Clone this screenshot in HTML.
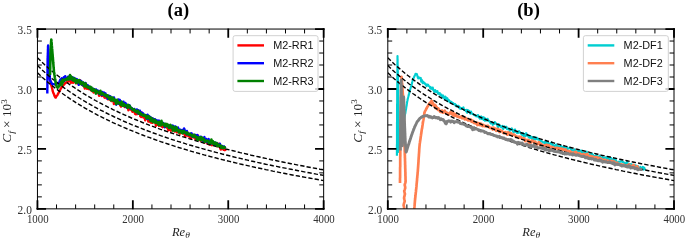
<!DOCTYPE html>
<html><head><meta charset="utf-8"><title>Cf vs Re_theta</title>
<style>
html,body{margin:0;padding:0;background:#fff;}
body{width:685px;height:240px;overflow:hidden;font-family:"Liberation Serif",serif;}
svg{display:block;will-change:transform;}
.tk{font-family:"Liberation Serif",serif;font-size:11.7px;fill:#333;}
.it{font-family:"Liberation Serif",serif;font-style:italic;font-size:11.8px;fill:#222;}
.lg{font-family:"Liberation Sans",sans-serif;font-size:10.85px;fill:#111;}
.ti{font-family:"Liberation Serif",serif;font-weight:bold;font-size:18.5px;fill:#000;}
.d{fill:none;stroke-linejoin:round;stroke-linecap:butt}
.ds{fill:none;stroke:#000;stroke-width:1.4;stroke-dasharray:4.3 2.1}
</style></head><body>
<svg width="685" height="240" viewBox="0 0 685 240">
<rect width="685" height="240" fill="#fff"/>
<defs>
<clipPath id="ca"><rect x="37.45" y="29.05" width="286.20" height="179.80"/></clipPath>
<clipPath id="cb"><rect x="387.80" y="29.05" width="286.20" height="179.80"/></clipPath>
</defs>
<text x="178.3" y="16.3" class="ti" text-anchor="middle">(a)</text>
<text x="528.5" y="16.3" class="ti" text-anchor="middle">(b)</text>
<g clip-path="url(#ca)">
<path class="d" d="M48.5,75.3 L48.7,75.8 L48.9,76.4 L49.1,76.8 L49.3,77.7 L49.5,78.4 L49.7,79.1 L49.9,79.7 L50.1,80.5 L50.3,81.1 L50.5,81.7 L50.6,82.7 L50.8,83.4 L51.0,84.2 L51.2,84.7 L51.3,85.3 L51.5,86.0 L51.7,86.5 L51.9,87.6 L52.0,88.0 L52.2,88.7 L52.4,89.5 L52.6,90.5 L52.7,91.0 L52.9,91.5 L53.1,92.2 L53.4,93.1 L53.7,93.6 L54.0,94.2 L54.2,95.0 L54.5,95.8 L54.8,96.6 L55.1,96.8 L55.3,97.5 L55.7,97.6 L56.1,96.8 L56.4,96.4 L56.8,95.7 L57.2,95.5 L57.6,94.7 L58.0,93.8 L58.3,93.5 L58.6,92.8 L59.0,91.9 L59.3,91.5 L59.6,90.8 L60.0,90.1 L60.3,89.6 L60.7,88.7 L61.0,88.3 L61.3,87.9 L61.7,87.2 L62.0,86.6 L62.5,86.1 L63.0,85.7 L63.5,84.8 L64.1,84.6 L64.6,83.7 L65.1,83.3 L65.6,82.6 L66.1,82.6 L66.8,82.3 L67.4,81.8 L68.1,81.8 L68.7,81.1 L69.4,80.9 L70.0,80.6 L70.5,81.1 L71.0,82.8 L71.5,79.6 L72.0,81.7 L72.5,80.6 L73.0,82.8 L73.5,81.4 L74.0,81.6 L74.5,81.8 L74.9,81.6 L75.4,80.0 L75.9,83.2 L76.3,80.4 L76.8,82.4 L77.2,83.0 L77.7,81.6 L78.2,82.9 L78.6,84.2 L79.1,83.1 L79.6,82.3 L80.0,80.3 L80.5,82.7 L80.9,83.3 L81.3,83.7 L81.8,83.4 L82.2,85.1 L82.6,84.3 L83.1,85.1 L83.5,86.2 L83.9,84.8 L84.4,85.6 L84.8,88.6 L85.3,87.4 L85.7,85.3 L86.1,86.9 L86.6,87.8 L87.0,88.8 L87.5,87.8 L87.9,87.3 L88.3,87.4 L88.8,89.1 L89.2,89.0 L89.7,88.3 L90.1,88.9 L90.6,88.9 L91.0,90.4 L91.4,89.1 L91.9,90.6 L92.3,91.2 L92.8,91.1 L93.2,89.8 L93.7,92.5 L94.1,90.5 L94.6,91.9 L95.0,90.9 L95.5,90.0 L95.9,92.4 L96.4,92.7 L96.8,92.5 L97.3,93.1 L97.7,92.3 L98.2,92.5 L98.6,93.3 L99.1,95.8 L99.5,94.8 L100.0,93.6 L100.4,95.0 L100.9,94.1 L101.3,94.3 L101.8,96.0 L102.2,94.7 L102.7,93.6 L103.1,94.7 L103.6,96.0 L104.0,96.3 L104.5,97.7 L104.9,95.8 L105.4,97.6 L105.8,97.5 L106.3,97.1 L106.7,98.4 L107.2,98.3 L107.6,97.0 L108.1,99.4 L108.5,97.1 L109.0,98.7 L109.4,98.9 L109.8,99.6 L110.3,98.5 L110.7,99.5 L111.2,99.6 L111.6,101.1 L112.1,99.4 L112.5,100.6 L113.0,100.4 L113.4,99.5 L113.9,104.1 L114.3,101.3 L114.8,100.0 L115.2,103.4 L115.7,100.9 L116.1,102.7 L116.6,103.4 L117.0,102.0 L117.5,102.5 L117.9,102.6 L118.4,103.2 L118.8,101.8 L119.3,102.5 L119.8,103.9 L120.2,105.4 L120.7,105.2 L121.1,106.6 L121.6,105.7 L122.0,104.6 L122.5,105.2 L122.9,103.3 L123.4,104.7 L123.8,104.9 L124.3,106.5 L124.8,107.1 L125.2,106.0 L125.7,106.2 L126.1,105.3 L126.6,107.1 L127.0,107.7 L127.5,108.2 L127.9,107.0 L128.4,110.3 L128.9,109.6 L129.3,108.4 L129.8,108.1 L130.2,108.6 L130.7,109.4 L131.1,109.4 L131.5,110.2 L132.0,110.8 L132.4,111.7 L132.8,111.7 L133.3,110.6 L133.7,111.4 L134.2,110.7 L134.6,110.8 L135.0,113.8 L135.5,111.4 L135.9,114.3 L136.4,112.0 L136.8,112.9 L137.2,114.1 L137.7,113.2 L138.1,113.8 L138.5,113.4 L139.0,113.3 L139.4,113.9 L139.9,113.6 L140.3,116.4 L140.8,114.7 L141.2,117.0 L141.6,112.4 L142.1,115.6 L142.5,116.4 L143.0,115.7 L143.4,117.5 L143.8,117.2 L144.3,116.5 L144.7,117.5 L145.2,120.3 L145.6,117.8 L146.1,118.0 L146.5,117.5 L146.9,118.3 L147.4,117.0 L147.8,118.4 L148.3,121.6 L148.7,120.3 L149.2,120.1 L149.6,120.8 L150.0,121.9 L150.5,120.7 L150.9,122.6 L151.4,121.7 L151.8,121.0 L152.3,122.9 L152.7,118.7 L153.2,120.9 L153.6,122.0 L154.1,120.9 L154.5,122.0 L154.9,121.7 L155.4,121.9 L155.9,125.8 L156.3,123.7 L156.8,123.1 L157.3,124.8 L157.7,123.3 L158.2,124.7 L158.7,124.3 L159.1,125.9 L159.6,122.7 L160.1,125.3 L160.6,124.8 L161.0,123.6 L161.5,126.2 L162.0,124.2 L162.4,127.2 L162.9,126.1 L163.4,126.5 L163.8,126.0 L164.3,127.1 L164.8,124.2 L165.2,126.5 L165.7,126.0 L166.2,127.1 L166.7,126.9 L167.1,127.9 L167.6,126.4 L168.1,129.6 L168.5,130.3 L169.0,127.7 L169.5,128.0 L169.9,128.6 L170.4,129.8 L170.9,130.7 L171.4,127.4 L171.8,128.3 L172.3,128.0 L172.8,128.1 L173.2,127.7 L173.7,130.0 L174.2,128.5 L174.7,131.6 L175.1,131.2 L175.6,129.2 L176.1,129.4 L176.5,130.0 L177.0,132.4 L177.5,130.1 L178.0,129.5 L178.4,131.3 L178.9,131.9 L179.4,131.0 L179.9,133.7 L180.3,132.3 L180.8,132.7 L181.3,131.5 L181.7,132.6 L182.2,132.6 L182.7,130.5 L183.1,133.5 L183.6,131.3 L184.1,133.5 L184.6,132.1 L185.0,136.1 L185.5,134.4 L186.0,135.2 L186.4,135.4 L186.9,133.1 L187.4,132.3 L187.8,134.6 L188.3,136.1 L188.8,135.4 L189.2,136.3 L189.7,136.7 L190.2,134.2 L190.7,136.3 L191.1,138.3 L191.6,135.7 L192.1,134.3 L192.5,136.5 L193.0,136.4 L193.5,137.5 L194.0,136.3 L194.4,137.5 L194.9,135.1 L195.4,138.7 L195.8,139.7 L196.3,139.5 L196.8,136.6 L197.3,138.8 L197.7,135.3 L198.2,139.1 L198.7,138.9 L199.2,138.0 L199.6,139.7 L200.1,139.6 L200.6,140.7 L201.0,140.0 L201.5,140.3 L202.0,138.0 L202.5,139.1 L202.9,140.0 L203.4,141.0 L203.9,140.8 L204.4,142.7 L204.8,140.2 L205.3,141.1 L205.8,141.8 L206.2,141.5 L206.7,142.5 L207.2,141.5 L207.6,143.8 L208.1,142.1 L208.6,143.9 L209.0,142.8 L209.5,144.6 L210.0,141.7 L210.5,143.9 L210.9,143.1 L211.4,144.0 L211.9,145.2 L212.3,142.8 L212.8,142.8 L213.3,143.4 L213.7,144.9 L214.2,142.7 L214.7,145.1 L215.1,143.8 L215.6,144.1 L216.1,145.1 L216.6,146.1 L217.0,145.2 L217.5,145.5 L218.0,146.2 L218.4,146.1 L218.9,143.7 L219.4,146.3 L219.8,147.1 L220.3,148.3 L220.8,149.6 L221.3,148.2 L221.7,147.8 L222.2,146.8 L222.7,148.1 L223.1,149.0 L223.6,149.8 L224.1,147.6 L224.6,149.0 L225.0,149.8 L225.5,151.1" stroke="#ff0000" stroke-width="2.4"/>
<path class="d" d="M47.3,93.5 L47.3,92.7 L47.3,92.0 L47.3,91.3 L47.3,90.6 L47.3,90.1 L47.3,89.4 L47.3,88.7 L47.4,88.0 L47.4,87.1 L47.4,86.5 L47.4,85.7 L47.4,85.0 L47.4,84.5 L47.4,83.6 L47.4,82.6 L47.4,82.1 L47.4,81.4 L47.4,80.5 L47.4,79.9 L47.4,79.5 L47.4,78.9 L47.4,77.8 L47.4,77.4 L47.5,76.7 L47.5,75.6 L47.5,75.1 L47.5,74.4 L47.5,73.7 L47.5,72.7 L47.5,72.2 L47.5,71.7 L47.5,71.0 L47.5,70.4 L47.5,69.4 L47.5,69.0 L47.5,68.1 L47.5,67.1 L47.5,66.7 L47.5,65.8 L47.6,65.3 L47.6,64.4 L47.6,63.9 L47.6,63.1 L47.6,62.3 L47.6,61.8 L47.6,61.0 L47.6,60.2 L47.6,59.7 L47.6,58.7 L47.7,58.0 L47.7,57.3 L47.7,56.5 L47.7,55.9 L47.8,55.5 L47.8,54.4 L47.8,53.8 L47.8,53.0 L47.9,52.3 L47.9,52.0 L47.9,51.1 L47.9,50.2 L47.9,49.6 L48.0,48.8 L48.0,48.1 L48.0,47.3 L48.0,46.6 L48.1,46.1 L48.1,45.4 L48.1,45.4 L48.1,46.0 L48.2,46.6 L48.2,47.5 L48.2,48.0 L48.3,49.0 L48.3,49.7 L48.3,50.4 L48.4,51.0 L48.4,51.5 L48.4,52.6 L48.5,53.3 L48.5,53.6 L48.5,54.6 L48.6,55.4 L48.6,55.8 L48.6,56.9 L48.7,57.3 L48.7,57.9 L48.7,59.0 L48.8,59.5 L48.8,60.1 L48.9,61.0 L48.9,61.3 L48.9,62.6 L49.0,62.9 L49.0,63.8 L49.1,64.4 L49.1,65.2 L49.2,66.0 L49.2,66.4 L49.2,67.4 L49.3,67.9 L49.3,68.6 L49.4,69.4 L49.4,70.0 L49.4,70.7 L49.5,71.7 L49.5,72.2 L49.6,73.1 L49.6,73.7 L49.7,74.2 L49.7,74.8 L49.7,75.7 L49.8,76.5 L49.8,77.2 L49.9,77.8 L49.9,78.7 L50.0,79.0 L50.0,79.8 L50.3,80.7 L50.6,81.6 L51.0,82.0 L51.3,82.4 L51.6,83.3 L51.9,83.9 L52.5,84.2 L53.2,84.1 L53.9,84.1 L54.6,84.3 L55.3,84.5 L56.0,84.7 L56.4,83.4 L56.8,83.3 L57.2,83.5 L57.6,83.0 L58.0,83.5 L58.4,83.2 L58.8,82.7 L59.2,83.6 L59.6,81.6 L60.0,80.3 L60.4,79.5 L60.9,79.8 L61.3,79.5 L61.7,78.3 L62.1,80.8 L62.5,80.0 L62.9,79.1 L63.4,78.3 L63.8,77.2 L64.2,77.7 L64.7,80.7 L65.2,76.1 L65.7,78.5 L66.2,79.1 L66.7,78.3 L67.1,77.7 L67.6,78.7 L68.1,76.6 L68.6,78.3 L69.1,79.1 L69.6,76.3 L70.1,76.4 L70.5,77.7 L71.0,78.8 L71.4,79.4 L71.9,78.9 L72.3,77.7 L72.8,77.4 L73.2,79.1 L73.7,79.5 L74.1,78.0 L74.6,79.5 L75.1,80.0 L75.5,81.0 L76.0,79.0 L76.4,80.9 L76.9,79.2 L77.4,80.2 L77.8,80.8 L78.3,82.7 L78.8,84.9 L79.2,81.7 L79.7,82.2 L80.1,82.9 L80.6,80.6 L81.0,83.2 L81.4,81.2 L81.9,84.6 L82.3,84.7 L82.8,83.9 L83.2,82.7 L83.6,85.7 L84.1,84.4 L84.5,84.5 L84.9,85.2 L85.4,82.9 L85.8,85.5 L86.3,86.4 L86.7,85.9 L87.1,86.0 L87.6,85.0 L88.0,87.0 L88.5,86.7 L88.9,86.8 L89.3,86.4 L89.8,88.2 L90.2,88.9 L90.7,88.1 L91.1,88.9 L91.6,89.6 L92.0,90.2 L92.4,88.9 L92.9,88.7 L93.3,88.7 L93.8,89.4 L94.2,90.2 L94.7,90.8 L95.1,89.6 L95.6,90.4 L96.0,89.4 L96.5,92.1 L96.9,90.5 L97.4,91.6 L97.8,90.6 L98.3,91.3 L98.7,91.1 L99.2,93.9 L99.6,92.7 L100.1,92.3 L100.5,91.7 L101.0,92.3 L101.4,93.8 L101.9,95.2 L102.3,92.0 L102.8,92.8 L103.2,93.8 L103.7,93.6 L104.1,92.6 L104.6,94.7 L105.0,95.7 L105.5,93.4 L105.9,95.6 L106.4,96.7 L106.8,96.9 L107.3,95.6 L107.7,98.8 L108.2,97.1 L108.6,95.9 L109.1,98.1 L109.5,96.0 L109.9,98.4 L110.4,96.3 L110.8,98.8 L111.3,97.5 L111.7,99.6 L112.2,99.4 L112.6,99.3 L113.1,99.1 L113.5,100.5 L114.0,97.5 L114.4,100.2 L114.9,100.4 L115.3,100.8 L115.8,101.3 L116.2,104.7 L116.7,101.0 L117.1,101.9 L117.6,101.5 L118.0,103.2 L118.5,99.5 L118.9,103.8 L119.4,101.4 L119.8,99.9 L120.3,101.4 L120.8,102.6 L121.2,103.2 L121.7,103.2 L122.1,104.4 L122.6,103.6 L123.0,103.8 L123.5,101.7 L123.9,104.9 L124.4,105.6 L124.8,104.3 L125.3,102.9 L125.8,103.7 L126.2,107.2 L126.7,104.9 L127.1,105.1 L127.6,105.1 L128.0,107.0 L128.5,105.8 L128.9,105.7 L129.4,105.2 L129.9,106.9 L130.3,108.4 L130.7,107.4 L131.2,108.7 L131.6,108.2 L132.1,108.4 L132.5,108.7 L132.9,108.8 L133.4,110.2 L133.8,109.8 L134.2,108.9 L134.7,109.9 L135.1,109.9 L135.6,110.8 L136.0,110.7 L136.4,111.2 L136.9,109.4 L137.3,111.7 L137.7,112.9 L138.2,110.2 L138.6,113.7 L139.1,112.5 L139.5,112.2 L139.9,110.7 L140.4,114.1 L140.8,112.1 L141.3,112.9 L141.7,114.3 L142.1,112.8 L142.6,113.1 L143.0,113.1 L143.5,114.5 L143.9,115.5 L144.4,115.5 L144.8,115.8 L145.2,115.2 L145.7,116.0 L146.1,115.3 L146.6,118.5 L147.0,116.7 L147.5,114.6 L147.9,115.8 L148.3,119.0 L148.8,116.0 L149.2,117.2 L149.7,118.4 L150.1,117.0 L150.6,119.6 L151.0,120.5 L151.4,118.0 L151.9,120.4 L152.3,118.4 L152.8,118.5 L153.2,120.1 L153.7,120.3 L154.1,119.6 L154.6,121.4 L155.0,119.1 L155.5,120.0 L155.9,119.9 L156.4,122.1 L156.9,122.4 L157.3,122.4 L157.8,120.4 L158.3,122.2 L158.7,122.7 L159.2,120.6 L159.7,121.7 L160.1,123.5 L160.6,123.7 L161.1,123.4 L161.5,123.9 L162.0,123.9 L162.5,123.9 L163.0,123.8 L163.4,123.1 L163.9,124.0 L164.4,124.0 L164.8,127.2 L165.3,125.1 L165.8,125.0 L166.2,124.9 L166.7,125.2 L167.2,125.2 L167.6,126.3 L168.1,125.8 L168.6,126.9 L169.1,125.4 L169.5,126.8 L170.0,127.5 L170.5,125.5 L170.9,127.1 L171.4,127.4 L171.9,126.9 L172.3,126.9 L172.8,125.6 L173.3,129.0 L173.8,126.9 L174.2,126.8 L174.7,129.0 L175.2,126.5 L175.6,129.7 L176.1,129.3 L176.6,129.6 L177.1,129.0 L177.5,128.0 L178.0,127.4 L178.5,131.3 L179.0,129.3 L179.4,129.4 L179.9,131.9 L180.4,129.7 L180.8,130.3 L181.3,130.5 L181.8,130.8 L182.2,129.9 L182.7,130.7 L183.2,132.9 L183.6,132.5 L184.1,128.5 L184.6,129.8 L185.1,132.5 L185.5,132.2 L186.0,132.1 L186.5,133.9 L186.9,130.9 L187.4,134.4 L187.9,133.4 L188.3,134.0 L188.8,133.9 L189.3,134.7 L189.8,133.7 L190.2,133.5 L190.7,135.2 L191.2,134.7 L191.6,133.3 L192.1,136.3 L192.6,136.4 L193.0,136.8 L193.5,135.5 L194.0,135.9 L194.5,135.3 L194.9,134.8 L195.4,136.1 L195.9,136.4 L196.3,135.7 L196.8,138.6 L197.3,135.0 L197.8,136.0 L198.2,136.4 L198.7,138.7 L199.2,137.2 L199.6,137.3 L200.1,136.8 L200.6,137.1 L201.1,136.7 L201.5,139.4 L202.0,139.1 L202.5,139.7 L203.0,138.1 L203.4,141.7 L203.9,138.1 L204.4,137.1 L204.8,139.2 L205.3,139.8 L205.8,140.7 L206.3,138.9 L206.7,140.9 L207.2,142.3 L207.7,139.6 L208.1,140.0 L208.6,139.1 L209.1,141.4 L209.5,142.3 L210.0,142.3 L210.5,142.6 L210.9,143.4 L211.4,142.2 L211.9,143.3 L212.3,141.4 L212.8,141.7 L213.3,143.0 L213.7,142.0 L214.2,143.8 L214.7,144.8 L215.2,143.9 L215.6,142.8 L216.1,143.0 L216.6,145.5 L217.0,143.3 L217.5,144.5 L218.0,144.3 L218.4,144.8 L218.9,146.1 L219.4,144.5 L219.9,143.7 L220.3,147.0 L220.8,145.9 L221.3,146.6 L221.7,145.9 L222.2,147.0 L222.7,147.7 L223.1,148.0 L223.6,146.4 L224.1,146.5 L224.6,147.5 L225.0,147.4 L225.5,148.0" stroke="#0000ff" stroke-width="2.4"/>
<path class="ds" d="M37.5,57.7 L41.1,61.3 L44.7,64.7 L48.3,67.9 L51.9,71.0 L55.6,74.0 L59.2,76.8 L62.8,79.6 L66.4,82.2 L70.1,84.8 L73.7,87.2 L77.3,89.6 L80.9,91.9 L84.5,94.2 L88.2,96.3 L91.8,98.4 L95.4,100.5 L99.0,102.4 L102.7,104.4 L106.3,106.2 L109.9,108.0 L113.5,109.8 L117.2,111.5 L120.8,113.2 L124.4,114.8 L128.0,116.4 L131.6,118.0 L135.3,119.5 L138.9,121.0 L142.5,122.5 L146.1,123.9 L149.8,125.3 L153.4,126.6 L157.0,128.0 L160.6,129.3 L164.2,130.5 L167.9,131.8 L171.5,133.0 L175.1,134.2 L178.7,135.4 L182.4,136.6 L186.0,137.7 L189.6,138.8 L193.2,139.9 L196.9,141.0 L200.5,142.0 L204.1,143.1 L207.7,144.1 L211.3,145.1 L215.0,146.1 L218.6,147.1 L222.2,148.0 L225.8,149.0 L229.5,149.9 L233.1,150.8 L236.7,151.7 L240.3,152.6 L243.9,153.4 L247.6,154.3 L251.2,155.2 L254.8,156.0 L258.4,156.8 L262.1,157.6 L265.7,158.4 L269.3,159.2 L272.9,160.0 L276.6,160.7 L280.2,161.5 L283.8,162.2 L287.4,163.0 L291.0,163.7 L294.7,164.4 L298.3,165.1 L301.9,165.8 L305.5,166.5 L309.2,167.2 L312.8,167.9 L316.4,168.5 L320.0,169.2 L323.7,169.8"/><path class="ds" d="M37.5,65.5 L41.1,69.0 L44.7,72.3 L48.3,75.4 L51.9,78.5 L55.6,81.4 L59.2,84.2 L62.8,86.9 L66.4,89.5 L70.1,92.0 L73.7,94.4 L77.3,96.7 L80.9,99.0 L84.5,101.2 L88.2,103.3 L91.8,105.4 L95.4,107.4 L99.0,109.3 L102.7,111.2 L106.3,113.0 L109.9,114.8 L113.5,116.5 L117.2,118.2 L120.8,119.9 L124.4,121.5 L128.0,123.0 L131.6,124.6 L135.3,126.0 L138.9,127.5 L142.5,128.9 L146.1,130.3 L149.8,131.7 L153.4,133.0 L157.0,134.3 L160.6,135.6 L164.2,136.8 L167.9,138.1 L171.5,139.3 L175.1,140.5 L178.7,141.6 L182.4,142.7 L186.0,143.9 L189.6,145.0 L193.2,146.0 L196.9,147.1 L200.5,148.1 L204.1,149.1 L207.7,150.1 L211.3,151.1 L215.0,152.1 L218.6,153.0 L222.2,154.0 L225.8,154.9 L229.5,155.8 L233.1,156.7 L236.7,157.6 L240.3,158.4 L243.9,159.3 L247.6,160.1 L251.2,161.0 L254.8,161.8 L258.4,162.6 L262.1,163.4 L265.7,164.2 L269.3,164.9 L272.9,165.7 L276.6,166.4 L280.2,167.2 L283.8,167.9 L287.4,168.6 L291.0,169.3 L294.7,170.0 L298.3,170.7 L301.9,171.4 L305.5,172.1 L309.2,172.8 L312.8,173.4 L316.4,174.1 L320.0,174.7 L323.7,175.4"/><path class="ds" d="M37.5,72.8 L41.1,76.2 L44.7,79.4 L48.3,82.6 L51.9,85.5 L55.6,88.4 L59.2,91.1 L62.8,93.8 L66.4,96.3 L70.1,98.8 L73.7,101.2 L77.3,103.5 L80.9,105.7 L84.5,107.8 L88.2,109.9 L91.8,111.9 L95.4,113.9 L99.0,115.8 L102.7,117.6 L106.3,119.4 L109.9,121.2 L113.5,122.9 L117.2,124.5 L120.8,126.1 L124.4,127.7 L128.0,129.2 L131.6,130.7 L135.3,132.2 L138.9,133.6 L142.5,135.0 L146.1,136.4 L149.8,137.7 L153.4,139.0 L157.0,140.3 L160.6,141.6 L164.2,142.8 L167.9,144.0 L171.5,145.2 L175.1,146.3 L178.7,147.5 L182.4,148.6 L186.0,149.7 L189.6,150.8 L193.2,151.8 L196.9,152.8 L200.5,153.9 L204.1,154.9 L207.7,155.8 L211.3,156.8 L215.0,157.7 L218.6,158.7 L222.2,159.6 L225.8,160.5 L229.5,161.4 L233.1,162.3 L236.7,163.1 L240.3,164.0 L243.9,164.8 L247.6,165.6 L251.2,166.5 L254.8,167.3 L258.4,168.0 L262.1,168.8 L265.7,169.6 L269.3,170.3 L272.9,171.1 L276.6,171.8 L280.2,172.6 L283.8,173.3 L287.4,174.0 L291.0,174.7 L294.7,175.4 L298.3,176.0 L301.9,176.7 L305.5,177.4 L309.2,178.0 L312.8,178.7 L316.4,179.3 L320.0,179.9 L323.7,180.6"/>
<path class="d" d="M50.0,74.9 L50.0,73.9 L50.0,73.7 L50.1,73.0 L50.1,72.3 L50.1,71.7 L50.1,70.9 L50.1,70.0 L50.1,69.5 L50.2,68.6 L50.2,68.1 L50.2,67.3 L50.2,66.6 L50.2,65.8 L50.2,65.1 L50.3,64.2 L50.3,63.7 L50.3,62.6 L50.3,62.3 L50.3,61.7 L50.3,61.2 L50.4,60.2 L50.4,59.3 L50.4,58.5 L50.4,58.3 L50.4,57.1 L50.4,56.7 L50.5,55.6 L50.5,55.2 L50.5,54.6 L50.5,53.8 L50.5,53.1 L50.5,52.2 L50.6,51.5 L50.6,51.1 L50.6,50.3 L50.6,49.5 L50.7,48.9 L50.7,48.0 L50.8,47.6 L50.8,46.9 L50.9,45.9 L50.9,45.3 L51.0,44.8 L51.0,43.8 L51.0,43.5 L51.1,42.7 L51.1,41.7 L51.2,41.2 L51.2,40.6 L51.3,39.5 L51.3,39.7 L51.4,40.3 L51.4,41.0 L51.5,41.9 L51.6,42.4 L51.6,43.0 L51.7,43.7 L51.7,44.6 L51.8,45.4 L51.9,46.0 L51.9,46.7 L52.0,47.4 L52.0,48.3 L52.1,48.9 L52.2,49.4 L52.2,50.2 L52.3,51.1 L52.3,51.6 L52.4,52.3 L52.4,53.0 L52.5,53.6 L52.6,54.6 L52.6,54.8 L52.7,56.1 L52.7,56.5 L52.8,57.1 L52.9,58.0 L52.9,58.4 L53.0,59.5 L53.0,60.2 L53.1,60.7 L53.1,61.5 L53.2,62.4 L53.3,62.8 L53.3,63.6 L53.4,64.4 L53.4,65.3 L53.5,65.7 L53.5,66.5 L53.6,67.3 L53.7,67.5 L53.7,68.5 L53.8,69.0 L53.8,69.7 L53.9,71.0 L53.9,71.4 L54.0,72.3 L54.1,72.8 L54.2,73.6 L54.3,74.1 L54.4,74.8 L54.6,75.6 L54.7,76.3 L54.8,77.2 L54.9,77.7 L55.0,78.4 L55.1,79.0 L55.2,79.8 L55.3,80.3 L55.4,81.3 L55.5,81.8 L55.6,82.6 L55.7,83.2 L55.8,84.1 L56.0,84.8 L56.2,85.3 L56.6,86.0 L56.9,86.6 L57.3,87.3 L57.6,87.7 L58.1,87.3 L58.6,86.8 L59.1,86.1 L59.5,85.3 L60.0,85.3 L60.3,84.3 L60.7,83.8 L61.0,81.8 L61.3,84.3 L61.7,82.1 L62.0,84.6 L62.3,79.9 L62.7,82.1 L63.0,82.3 L63.3,80.8 L63.7,80.1 L64.0,80.7 L64.5,79.7 L64.9,79.7 L65.4,79.8 L65.8,79.0 L66.3,79.1 L66.7,79.9 L67.2,78.5 L67.6,78.9 L68.1,77.7 L68.6,79.3 L69.1,77.0 L69.5,79.2 L70.0,75.1 L70.5,77.2 L71.0,76.4 L71.5,79.3 L71.9,78.8 L72.3,77.5 L72.8,78.5 L73.2,80.6 L73.6,79.5 L74.1,80.4 L74.5,78.5 L75.0,78.7 L75.4,81.0 L75.9,82.9 L76.4,80.3 L76.8,81.6 L77.3,80.3 L77.7,82.6 L78.2,81.1 L78.7,81.3 L79.1,80.1 L79.6,81.7 L80.1,82.5 L80.5,84.0 L80.9,81.7 L81.4,84.1 L81.8,83.0 L82.2,83.3 L82.7,82.9 L83.1,82.4 L83.5,83.1 L84.0,86.2 L84.4,83.7 L84.9,84.7 L85.3,86.4 L85.7,83.5 L86.2,86.3 L86.6,85.6 L87.1,86.5 L87.5,87.4 L87.9,86.6 L88.4,86.8 L88.8,88.0 L89.3,88.1 L89.7,87.0 L90.1,87.8 L90.6,86.9 L91.0,89.7 L91.5,87.5 L91.9,89.1 L92.4,90.9 L92.8,90.2 L93.3,89.3 L93.7,89.1 L94.2,89.5 L94.6,91.2 L95.1,90.9 L95.5,90.8 L95.9,93.6 L96.4,90.4 L96.8,91.0 L97.3,91.3 L97.7,92.1 L98.2,92.5 L98.6,92.1 L99.1,93.3 L99.5,93.4 L100.0,92.7 L100.4,90.8 L100.9,94.3 L101.4,92.7 L101.8,93.2 L102.3,94.0 L102.7,93.1 L103.2,93.7 L103.6,94.8 L104.1,94.6 L104.5,95.5 L105.0,94.5 L105.4,95.4 L105.9,94.8 L106.3,95.8 L106.8,96.6 L107.2,96.3 L107.6,95.3 L108.1,96.8 L108.5,97.4 L109.0,98.6 L109.4,97.7 L109.9,97.5 L110.3,97.0 L110.8,100.4 L111.2,97.7 L111.7,97.7 L112.1,98.9 L112.6,97.5 L113.0,100.6 L113.5,99.9 L113.9,100.5 L114.4,99.2 L114.8,99.9 L115.3,101.5 L115.7,101.8 L116.2,104.0 L116.6,102.4 L117.1,99.7 L117.5,101.9 L118.0,101.6 L118.4,103.3 L118.9,102.4 L119.3,103.2 L119.8,102.6 L120.2,103.7 L120.7,104.8 L121.1,102.9 L121.6,101.7 L122.1,102.9 L122.5,105.8 L123.0,104.6 L123.4,104.3 L123.9,103.9 L124.3,106.1 L124.8,105.5 L125.2,105.4 L125.7,105.1 L126.1,105.7 L126.6,105.8 L127.1,106.9 L127.5,107.8 L128.0,104.8 L128.4,105.5 L128.9,107.1 L129.4,107.4 L129.8,106.0 L130.2,107.2 L130.7,107.7 L131.1,107.9 L131.6,108.1 L132.0,108.7 L132.4,109.9 L132.9,110.0 L133.3,110.1 L133.7,110.1 L134.2,109.3 L134.6,109.8 L135.1,111.2 L135.5,110.9 L135.9,111.8 L136.4,111.5 L136.8,111.6 L137.3,112.2 L137.7,110.5 L138.1,112.1 L138.6,111.9 L139.0,113.6 L139.5,112.3 L139.9,113.4 L140.3,113.0 L140.8,114.2 L141.2,114.7 L141.7,114.0 L142.1,114.5 L142.5,114.8 L143.0,115.7 L143.4,114.8 L143.9,115.4 L144.3,115.2 L144.8,114.9 L145.2,116.3 L145.6,116.7 L146.1,115.7 L146.5,118.4 L147.0,116.3 L147.4,118.0 L147.9,117.9 L148.3,116.0 L148.7,117.9 L149.2,116.6 L149.6,118.3 L150.1,119.4 L150.5,120.8 L151.0,119.9 L151.4,117.9 L151.8,119.3 L152.3,121.4 L152.7,120.3 L153.2,122.1 L153.6,119.8 L154.1,120.2 L154.5,119.7 L155.0,120.9 L155.4,122.7 L155.9,120.7 L156.4,122.6 L156.8,122.5 L157.3,123.0 L157.8,122.1 L158.2,122.6 L158.7,124.9 L159.2,121.7 L159.6,123.9 L160.1,124.8 L160.6,123.9 L161.0,125.3 L161.5,120.9 L162.0,123.7 L162.4,123.0 L162.9,124.0 L163.4,124.5 L163.9,125.2 L164.3,124.1 L164.8,126.0 L165.3,123.7 L165.7,126.4 L166.2,125.4 L166.7,124.0 L167.1,124.2 L167.6,124.4 L168.1,125.3 L168.5,126.6 L169.0,128.0 L169.5,127.6 L170.0,125.7 L170.4,124.9 L170.9,127.1 L171.4,126.1 L171.8,127.6 L172.3,127.2 L172.8,130.6 L173.3,126.5 L173.7,128.7 L174.2,130.4 L174.7,128.3 L175.1,128.1 L175.6,130.8 L176.1,127.1 L176.6,127.7 L177.0,128.4 L177.5,130.2 L178.0,130.7 L178.5,130.0 L178.9,132.5 L179.4,130.3 L179.9,130.6 L180.3,130.5 L180.8,132.2 L181.3,131.2 L181.7,131.0 L182.2,133.3 L182.7,133.0 L183.2,132.9 L183.6,130.8 L184.1,131.2 L184.6,132.2 L185.0,132.4 L185.5,132.4 L186.0,132.8 L186.4,133.9 L186.9,132.4 L187.4,133.8 L187.8,133.4 L188.3,133.5 L188.8,133.8 L189.3,135.0 L189.7,134.8 L190.2,133.9 L190.7,135.2 L191.1,135.2 L191.6,135.6 L192.1,135.1 L192.6,136.6 L193.0,136.1 L193.5,134.8 L194.0,134.8 L194.4,134.9 L194.9,136.9 L195.4,135.9 L195.9,136.5 L196.3,136.9 L196.8,138.4 L197.3,139.5 L197.7,137.4 L198.2,139.7 L198.7,138.4 L199.2,139.2 L199.6,137.9 L200.1,137.1 L200.6,139.0 L201.0,140.0 L201.5,137.3 L202.0,139.0 L202.5,139.5 L202.9,140.0 L203.4,138.5 L203.9,139.2 L204.4,140.8 L204.8,141.9 L205.3,140.4 L205.8,141.4 L206.2,140.8 L206.7,141.2 L207.2,140.6 L207.6,140.9 L208.1,140.8 L208.6,141.6 L209.0,142.8 L209.5,142.1 L210.0,142.7 L210.5,141.6 L210.9,143.2 L211.4,139.5 L211.9,141.4 L212.3,142.7 L212.8,141.3 L213.3,143.9 L213.7,143.7 L214.2,142.8 L214.7,144.0 L215.1,142.6 L215.6,143.3 L216.1,144.0 L216.6,143.0 L217.0,145.8 L217.5,144.3 L218.0,146.2 L218.4,145.2 L218.9,145.8 L219.4,144.8 L219.8,145.5 L220.3,145.6 L220.8,146.4 L221.3,147.8 L221.7,146.0 L222.2,146.6 L222.7,147.3 L223.1,148.0 L223.6,147.2 L224.1,147.1 L224.6,147.0 L225.0,147.8 L225.5,148.2" stroke="#008000" stroke-width="2.6"/>
</g>
<g clip-path="url(#cb)">
<path class="d" d="M396.9,155.8 L396.9,155.2 L396.9,154.6 L396.9,153.8 L396.9,153.0 L396.9,152.5 L396.9,151.8 L396.9,151.0 L396.9,150.3 L396.9,149.5 L396.9,148.9 L396.9,148.2 L396.9,147.5 L396.9,146.6 L396.9,146.1 L396.9,145.4 L396.9,144.7 L397.0,143.9 L397.0,143.2 L397.0,142.4 L397.0,141.7 L397.0,140.8 L397.0,140.4 L397.0,139.9 L397.0,139.2 L397.0,138.2 L397.0,137.7 L397.0,137.0 L397.0,136.2 L397.0,135.3 L397.0,135.0 L397.0,134.1 L397.0,133.4 L397.0,132.9 L397.0,132.0 L397.0,131.4 L397.0,130.8 L397.0,129.9 L397.0,129.1 L397.0,128.6 L397.0,127.8 L397.0,127.2 L397.0,126.4 L397.0,125.6 L397.0,125.0 L397.0,124.2 L397.0,123.5 L397.0,122.9 L397.0,122.2 L397.1,121.5 L397.1,120.6 L397.1,120.1 L397.1,119.2 L397.1,118.9 L397.1,117.9 L397.1,117.2 L397.1,116.7 L397.1,115.8 L397.1,115.0 L397.1,114.3 L397.1,113.8 L397.1,113.1 L397.1,112.4 L397.1,111.6 L397.1,110.9 L397.1,110.3 L397.1,109.6 L397.1,108.7 L397.1,108.5 L397.1,107.4 L397.1,106.8 L397.1,106.2 L397.1,105.4 L397.1,104.6 L397.1,104.0 L397.2,103.3 L397.2,102.2 L397.2,101.8 L397.2,101.0 L397.2,100.3 L397.2,99.7 L397.2,99.0 L397.2,98.3 L397.2,97.5 L397.2,97.0 L397.2,95.9 L397.2,95.3 L397.2,94.6 L397.2,94.0 L397.2,93.3 L397.2,92.7 L397.2,91.8 L397.2,91.4 L397.2,90.6 L397.2,89.8 L397.3,88.9 L397.3,88.3 L397.3,87.6 L397.3,87.1 L397.3,86.4 L397.3,85.5 L397.3,85.1 L397.3,84.2 L397.3,83.3 L397.3,82.9 L397.3,82.2 L397.3,81.4 L397.3,80.6 L397.3,80.1 L397.3,79.2 L397.3,78.6 L397.3,77.9 L397.3,77.2 L397.3,76.4 L397.4,75.7 L397.4,75.1 L397.4,74.1 L397.4,73.7 L397.4,73.0 L397.4,72.3 L397.4,71.5 L397.4,70.9 L397.4,70.2 L397.4,69.3 L397.4,68.7 L397.4,68.1 L397.4,67.2 L397.4,66.5 L397.4,66.1 L397.4,65.3 L397.4,64.4 L397.4,63.9 L397.4,63.1 L397.5,62.5 L397.5,61.8 L397.5,60.7 L397.5,60.3 L397.5,59.7 L397.5,59.0 L397.5,58.1 L397.5,57.4 L397.5,56.8 L397.5,56.0 L397.5,56.2 L397.5,56.8 L397.5,57.7 L397.5,58.4 L397.6,59.1 L397.6,59.6 L397.6,60.3 L397.6,61.0 L397.6,61.9 L397.6,62.4 L397.6,63.3 L397.6,64.1 L397.6,64.6 L397.7,65.4 L397.7,66.2 L397.7,66.9 L397.7,67.4 L397.7,68.2 L397.7,68.9 L397.7,69.6 L397.7,70.4 L397.8,71.0 L397.8,71.8 L397.8,72.2 L397.8,73.2 L397.8,73.9 L397.8,74.5 L397.8,75.3 L397.8,76.0 L397.8,76.6 L397.9,77.3 L397.9,78.1 L397.9,78.7 L397.9,79.3 L397.9,80.0 L397.9,80.8 L397.9,81.6 L397.9,82.3 L398.0,83.0 L398.0,83.8 L398.0,84.3 L398.0,85.0 L398.0,85.7 L398.0,86.4 L398.0,87.1 L398.0,88.0 L398.0,88.4 L398.1,89.3 L398.1,90.0 L398.1,90.8 L398.1,91.3 L398.1,92.2 L398.1,92.7 L398.1,93.6 L398.1,94.0 L398.1,94.9 L398.2,95.7 L398.2,96.1 L398.2,97.1 L398.2,97.6 L398.2,98.5 L398.2,99.1 L398.2,99.9 L398.2,100.6 L398.3,101.1 L398.3,102.1 L398.3,102.8 L398.3,103.2 L398.3,104.1 L398.3,104.8 L398.3,105.4 L398.3,106.0 L398.3,107.0 L398.4,107.5 L398.4,108.3 L398.4,109.2 L398.4,109.7 L398.4,110.3 L398.4,111.2 L398.4,111.6 L398.4,112.4 L398.4,113.5 L398.4,113.8 L398.5,114.6 L398.5,115.2 L398.5,116.0 L398.5,116.7 L398.5,117.1 L398.5,118.0 L398.5,118.9 L398.5,119.6 L398.5,120.2 L398.5,120.8 L398.5,121.7 L398.5,122.3 L398.6,122.9 L398.6,123.7 L398.6,124.7 L398.6,125.0 L398.6,125.9 L398.6,126.6 L398.6,127.1 L398.6,127.8 L398.6,128.6 L398.6,129.3 L398.6,130.1 L398.6,130.7 L398.7,131.4 L398.7,132.3 L398.7,132.9 L398.7,133.5 L398.7,134.3 L398.7,135.2 L398.7,135.6 L398.7,136.2 L398.7,137.2 L398.7,138.0 L398.7,138.6 L398.7,139.1 L398.8,139.7 L398.8,140.7 L398.8,141.3 L398.8,142.0 L398.8,142.7 L398.8,143.6 L398.8,144.1 L398.8,144.8 L398.8,145.5 L398.8,146.1 L398.8,146.9 L398.8,147.6 L398.9,148.1 L398.9,148.9 L398.9,149.6 L398.9,150.3 L398.9,151.2 L398.9,152.0 L399.0,151.5 L399.1,150.6 L399.2,149.9 L399.3,149.5 L399.4,148.7 L399.5,148.0 L399.6,147.2 L399.7,146.4 L399.8,146.1 L399.9,145.1 L400.0,144.5 L400.1,143.7 L400.2,143.3 L400.3,142.4 L400.4,141.7 L400.5,141.0 L400.6,140.3 L400.7,139.8 L400.8,138.8 L400.9,138.3 L401.0,137.5 L401.1,136.8 L401.2,136.1 L401.3,135.5 L401.4,134.6 L401.5,134.0 L401.6,133.4 L401.8,132.6 L401.9,131.9 L402.0,131.3 L402.1,130.6 L402.2,129.9 L402.3,129.2 L402.5,128.4 L402.6,127.9 L402.7,127.0 L402.8,126.3 L403.0,125.8 L403.1,124.9 L403.2,124.3 L403.3,123.7 L403.5,123.1 L403.6,122.3 L403.7,121.6 L403.9,120.9 L404.0,120.3 L404.1,119.5 L404.2,118.9 L404.4,118.3 L404.5,117.4 L404.6,116.7 L404.7,116.0 L404.9,115.3 L405.0,114.6 L405.1,113.9 L405.3,113.3 L405.4,112.7 L405.5,112.0 L405.6,111.2 L405.7,110.6 L405.9,109.7 L406.0,109.4 L406.1,108.7 L406.2,107.8 L406.3,107.1 L406.4,106.4 L406.6,105.8 L406.7,104.9 L406.8,104.1 L406.9,103.7 L407.0,102.8 L407.1,102.3 L407.2,101.4 L407.4,100.8 L407.5,100.2 L407.6,99.6 L407.8,98.8 L408.0,98.0 L408.1,97.4 L408.3,96.7 L408.5,95.9 L408.7,95.4 L408.8,94.5 L409.0,94.0 L409.2,93.3 L409.3,92.7 L409.5,91.8 L409.7,91.2 L409.9,90.6 L410.0,90.0 L410.2,89.3 L410.4,88.6 L410.6,87.8 L410.8,87.3 L411.0,86.5 L411.2,85.8 L411.4,85.3 L411.6,84.4 L411.8,84.0 L412.0,83.1 L412.1,82.4 L412.3,81.8 L412.5,81.0 L412.7,80.4 L412.9,79.8 L413.2,78.9 L413.5,78.4 L413.8,77.7 L414.0,77.1 L414.3,76.7 L414.6,75.9 L414.9,75.3 L415.2,74.7 L415.5,73.9 L415.9,74.0 L416.4,74.4 L416.8,74.0 L417.3,75.5 L417.8,77.6 L418.3,78.3 L418.8,77.3 L419.3,78.2 L419.7,78.2 L420.2,78.1 L420.7,77.9 L421.2,81.7 L421.7,79.7 L422.2,81.3 L422.7,83.1 L423.2,81.7 L423.7,82.4 L424.2,83.3 L424.8,83.2 L425.3,84.2 L425.8,84.1 L426.4,85.9 L427.0,85.7 L427.5,84.6 L428.1,84.8 L428.7,85.9 L429.3,86.3 L429.8,86.6 L430.4,88.6 L431.0,87.5 L431.6,88.1 L432.2,89.1 L432.7,87.5 L433.3,90.1 L433.9,90.7 L434.5,91.9 L435.1,90.0 L435.6,90.9 L436.2,91.9 L436.8,91.7 L437.4,91.1 L438.0,93.7 L438.6,93.0 L439.2,94.0 L439.7,93.0 L440.3,95.3 L440.9,94.5 L441.5,94.6 L442.1,96.4 L442.6,97.1 L443.2,95.6 L443.8,97.8 L444.4,98.8 L445.0,97.9 L445.5,96.7 L446.1,99.0 L446.7,99.8 L447.3,98.2 L447.9,101.2 L448.5,99.8 L449.0,100.3 L449.6,101.8 L450.2,101.4 L450.8,102.7 L451.4,101.9 L452.0,102.7 L452.6,102.7 L453.2,103.3 L453.7,104.0 L454.3,104.3 L454.9,103.9 L455.5,105.5 L456.1,104.9 L456.7,106.5 L457.3,106.3 L457.9,106.0 L458.5,105.8 L459.1,106.9 L459.7,108.5 L460.3,107.7 L460.9,108.8 L461.5,108.1 L462.2,108.2 L462.8,108.2 L463.4,107.3 L464.0,109.8 L464.7,109.9 L465.3,110.1 L465.9,111.2 L466.6,109.8 L467.2,112.7 L467.8,110.0 L468.4,111.9 L469.1,110.9 L469.7,112.1 L470.3,113.7 L471.0,111.5 L471.6,113.4 L472.2,113.6 L472.9,114.0 L473.5,114.4 L474.1,115.2 L474.8,115.2 L475.4,115.4 L476.1,116.2 L476.7,116.3 L477.3,115.8 L478.0,115.1 L478.6,117.3 L479.2,116.5 L479.9,118.7 L480.5,116.9 L481.2,116.5 L481.8,119.0 L482.4,117.6 L483.1,117.1 L483.7,120.0 L484.4,117.7 L485.0,120.7 L485.7,118.8 L486.3,120.4 L486.9,120.5 L487.6,118.8 L488.2,120.8 L488.9,120.7 L489.5,121.5 L490.2,122.2 L490.8,123.4 L491.5,122.0 L492.1,122.4 L492.7,124.8 L493.4,123.7 L494.0,124.0 L494.7,122.1 L495.3,122.5 L496.0,123.6 L496.6,124.2 L497.3,125.1 L497.9,127.5 L498.6,124.0 L499.3,125.0 L499.9,126.3 L500.6,126.2 L501.2,127.3 L501.9,126.2 L502.5,125.9 L503.2,129.0 L503.8,127.7 L504.5,126.4 L505.1,127.4 L505.8,127.9 L506.4,126.8 L507.1,129.2 L507.8,128.9 L508.4,128.6 L509.1,128.6 L509.7,131.1 L510.4,129.7 L511.0,129.2 L511.7,128.3 L512.4,129.5 L513.0,131.4 L513.7,132.4 L514.3,130.1 L515.0,129.5 L515.7,131.7 L516.3,131.9 L517.0,133.0 L517.6,131.7 L518.3,132.8 L519.0,131.1 L519.6,132.0 L520.3,132.8 L520.9,133.2 L521.6,134.3 L522.3,135.2 L522.9,133.0 L523.6,136.1 L524.3,134.1 L524.9,134.6 L525.6,136.3 L526.2,133.2 L526.9,134.3 L527.6,135.2 L528.2,136.3 L528.9,137.5 L529.6,137.7 L530.2,136.0 L530.9,137.9 L531.5,137.0 L532.2,139.0 L532.9,137.6 L533.5,139.1 L534.2,137.3 L534.9,139.3 L535.5,137.5 L536.2,139.1 L536.8,137.7 L537.5,139.3 L538.2,138.9 L538.8,139.0 L539.5,140.4 L540.2,141.1 L540.8,140.7 L541.5,141.1 L542.2,141.8 L542.8,142.5 L543.5,142.5 L544.2,142.1 L544.8,143.9 L545.5,141.7 L546.2,143.2 L546.8,141.6 L547.5,145.2 L548.1,142.9 L548.8,143.5 L549.5,144.9 L550.1,143.6 L550.8,143.2 L551.5,142.5 L552.1,144.2 L552.8,146.6 L553.5,145.1 L554.1,146.8 L554.8,146.1 L555.5,145.1 L556.2,144.4 L556.8,145.8 L557.5,146.7 L558.2,146.1 L558.9,146.7 L559.5,147.2 L560.2,146.5 L560.9,145.7 L561.6,146.9 L562.3,148.0 L562.9,146.8 L563.6,146.8 L564.3,147.0 L565.0,147.9 L565.6,148.2 L566.3,148.5 L567.0,147.5 L567.7,148.9 L568.4,148.5 L569.0,148.3 L569.7,147.7 L570.4,148.5 L571.1,149.2 L571.8,150.1 L572.4,150.5 L573.1,150.3 L573.8,150.7 L574.5,149.5 L575.2,151.5 L575.9,151.7 L576.5,151.8 L577.2,150.8 L577.9,151.4 L578.6,151.2 L579.3,150.5 L580.0,151.6 L580.6,150.6 L581.3,150.6 L582.0,153.0 L582.7,153.1 L583.4,153.5 L584.1,152.5 L584.7,153.1 L585.4,153.8 L586.1,153.1 L586.8,151.7 L587.5,155.9 L588.1,155.2 L588.8,155.4 L589.5,154.4 L590.2,153.8 L590.9,154.8 L591.5,155.2 L592.2,153.8 L592.9,154.8 L593.6,156.0 L594.3,157.0 L594.9,156.4 L595.6,155.6 L596.3,154.9 L597.0,158.2 L597.7,156.6 L598.4,157.4 L599.0,156.9 L599.7,155.7 L600.4,159.2 L601.1,158.0 L601.8,158.7 L602.4,156.9 L603.1,157.8 L603.8,159.3 L604.5,157.8 L605.2,157.6 L605.9,157.4 L606.5,157.4 L607.2,159.6 L607.9,158.9 L608.6,157.4 L609.3,160.7 L610.0,160.7 L610.7,160.7 L611.3,158.0 L612.0,160.0 L612.7,161.3 L613.4,159.3 L614.1,159.7 L614.8,160.3 L615.4,158.8 L616.1,161.1 L616.8,162.0 L617.5,161.8 L618.2,162.8 L618.9,161.6 L619.6,161.6 L620.2,161.7 L620.9,161.3 L621.6,161.2 L622.3,161.7 L623.0,162.5 L623.6,162.2 L624.3,163.0 L625.0,163.2 L625.7,163.9 L626.4,162.9 L627.0,161.6 L627.7,162.9 L628.4,165.8 L629.1,164.9 L629.8,163.9 L630.4,164.3 L631.1,164.6 L631.8,164.4 L632.5,165.2 L633.2,165.8 L633.8,166.5 L634.5,165.2 L635.2,165.4 L635.9,165.6 L636.5,166.2 L637.2,167.4 L637.8,166.0 L638.5,169.0 L639.1,167.7 L639.8,168.5 L640.4,166.9 L641.1,167.7 L641.7,167.8 L642.4,168.6 L643.0,166.9 L643.7,169.6 L644.3,167.7 L645.0,170.0" stroke="#00ced1" stroke-width="2.15"/>
<path class="d" d="M400.0,183.1 L400.0,182.3 L400.0,181.6 L400.0,180.9 L400.0,180.2 L400.0,179.5 L400.0,178.9 L400.0,178.2 L400.1,177.5 L400.1,176.7 L400.1,175.9 L400.1,175.2 L400.1,174.5 L400.1,173.8 L400.1,173.1 L400.1,172.7 L400.1,171.8 L400.1,171.3 L400.1,170.2 L400.1,169.7 L400.1,169.1 L400.1,168.3 L400.1,167.5 L400.2,166.9 L400.2,166.2 L400.2,165.5 L400.2,164.8 L400.2,164.1 L400.2,163.4 L400.2,162.7 L400.2,162.0 L400.2,161.3 L400.2,160.5 L400.2,159.9 L400.2,159.1 L400.2,158.5 L400.2,157.7 L400.2,157.0 L400.3,156.3 L400.3,155.5 L400.3,155.0 L400.3,154.3 L400.3,153.5 L400.3,152.9 L400.3,152.1 L400.3,151.4 L400.3,150.8 L400.3,150.3 L400.3,149.3 L400.3,148.8 L400.3,147.9 L400.3,147.1 L400.3,146.6 L400.4,145.9 L400.4,145.1 L400.4,144.4 L400.4,143.6 L400.4,142.8 L400.4,142.3 L400.4,141.4 L400.4,140.9 L400.4,140.1 L400.4,139.5 L400.4,138.9 L400.4,137.9 L400.4,137.4 L400.4,136.7 L400.4,136.1 L400.5,135.3 L400.5,134.5 L400.5,133.8 L400.5,133.3 L400.5,132.4 L400.5,131.8 L400.5,131.1 L400.5,130.2 L400.5,129.6 L400.5,128.7 L400.5,128.1 L400.5,127.6 L400.6,126.9 L400.6,125.9 L400.6,125.6 L400.6,124.6 L400.6,123.9 L400.6,123.5 L400.6,122.7 L400.7,121.9 L400.7,121.4 L400.7,120.5 L400.7,119.9 L400.7,119.1 L400.7,118.4 L400.7,117.7 L400.7,117.1 L400.8,116.2 L400.8,115.6 L400.8,114.7 L400.8,114.0 L400.8,113.6 L400.8,112.8 L400.8,112.1 L400.9,111.5 L400.9,110.7 L400.9,110.0 L400.9,109.3 L400.9,108.4 L400.9,107.9 L400.9,107.3 L400.9,106.6 L401.0,105.8 L401.0,105.1 L401.0,104.4 L401.0,103.8 L401.0,103.1 L401.0,102.2 L401.0,101.5 L401.0,100.8 L401.1,100.1 L401.1,99.4 L401.1,98.7 L401.1,97.8 L401.1,97.4 L401.1,96.6 L401.1,95.8 L401.2,95.2 L401.2,94.5 L401.2,94.0 L401.2,93.0 L401.2,92.4 L401.2,91.8 L401.2,90.9 L401.2,90.2 L401.3,89.7 L401.3,88.9 L401.3,88.1 L401.3,87.4 L401.3,86.9 L401.3,86.3 L401.3,85.4 L401.4,84.8 L401.4,84.1 L401.4,83.4 L401.4,82.5 L401.4,82.0 L401.4,81.3 L401.4,80.8 L401.4,79.8 L401.5,79.2 L401.5,78.5 L401.5,77.8 L401.5,76.9 L401.6,77.7 L401.6,78.5 L401.7,79.1 L401.7,79.8 L401.8,80.4 L401.9,81.2 L401.9,81.9 L402.0,82.7 L402.1,83.3 L402.1,84.0 L402.2,84.6 L402.2,85.4 L402.3,86.1 L402.3,87.0 L402.4,87.4 L402.4,88.3 L402.5,88.8 L402.5,89.6 L402.6,90.4 L402.6,91.0 L402.7,91.7 L402.7,92.3 L402.8,93.4 L402.8,94.0 L402.9,94.4 L403.0,95.1 L403.0,95.8 L403.1,96.6 L403.1,97.2 L403.2,98.0 L403.2,98.6 L403.3,99.7 L403.3,100.1 L403.4,100.8 L403.4,101.7 L403.5,102.2 L403.5,102.9 L403.6,103.6 L403.6,104.4 L403.6,105.0 L403.6,105.7 L403.7,106.4 L403.7,107.0 L403.7,107.8 L403.7,108.5 L403.7,109.4 L403.7,109.9 L403.7,110.6 L403.8,111.3 L403.8,112.1 L403.8,112.5 L403.8,113.4 L403.8,113.9 L403.8,114.7 L403.9,115.5 L403.9,116.2 L403.9,116.9 L403.9,117.7 L403.9,118.5 L403.9,119.1 L403.9,119.8 L404.0,120.4 L404.0,121.3 L404.0,122.0 L404.0,122.5 L404.0,123.2 L404.0,124.0 L404.1,124.8 L404.1,125.3 L404.1,126.2 L404.1,126.6 L404.1,127.5 L404.1,128.3 L404.2,128.8 L404.2,129.6 L404.2,130.3 L404.2,131.0 L404.2,131.5 L404.2,132.3 L404.2,133.1 L404.3,133.8 L404.3,134.6 L404.3,135.3 L404.3,135.9 L404.3,136.6 L404.3,137.5 L404.4,138.1 L404.4,138.7 L404.4,139.4 L404.4,140.2 L404.4,140.9 L404.4,141.5 L404.5,142.3 L404.5,142.9 L404.5,143.6 L404.5,144.5 L404.6,144.9 L404.6,145.8 L404.6,146.3 L404.6,147.1 L404.6,147.9 L404.7,148.4 L404.7,149.1 L404.7,149.8 L404.7,150.6 L404.7,151.4 L404.8,152.1 L404.8,152.7 L404.8,153.5 L404.8,154.0 L404.8,155.0 L404.9,155.5 L404.9,156.2 L404.9,157.0 L404.9,157.7 L405.0,158.3 L405.0,158.9 L405.0,159.8 L405.0,160.5 L405.0,161.1 L405.1,161.7 L405.1,162.6 L405.1,163.4 L405.1,163.8 L405.1,164.5 L405.2,165.4 L405.2,166.0 L405.2,166.7 L405.2,167.5 L405.2,168.2 L405.3,168.9 L405.3,169.7 L405.3,170.4 L405.3,170.9 L405.3,171.4 L405.4,172.4 L405.4,173.1 L405.4,173.8 L405.4,174.4 L405.4,175.4 L405.4,175.7 L405.5,176.7 L405.5,177.4 L405.5,178.1 L405.5,178.8 L405.5,179.4 L405.6,180.1 L405.6,180.8 L405.6,181.6 L405.5,182.2 L405.3,182.9 L405.1,183.4 L404.9,184.1 L404.7,184.9 L404.8,185.6 L405.0,186.1 L405.1,186.8 L405.2,187.6 L405.2,188.3 L404.9,189.0 L404.7,189.7 L404.5,190.3 L404.2,191.0 L404.4,191.8 L404.5,192.3 L404.7,193.2 L404.9,193.6 L404.9,194.4 L404.7,194.8 L404.6,195.7 L404.4,196.3 L404.2,197.0 L404.1,197.8 L404.1,198.3 L404.3,199.1 L404.4,199.6 L404.6,200.4 L404.7,201.3 L404.5,201.9 L404.3,202.6 L404.1,203.1 L403.9,203.7 L403.7,204.7 L403.6,205.3 L403.8,206.0 L403.9,206.6 L404.1,207.4 L404.2,207.9 L404.1,208.7 L404.1,209.4 L404.0,210.0 L404.0,210.9 L403.9,211.5 L403.9,212.3 L403.8,212.7 L404.4,212.9 L405.1,213.0 L405.8,213.1 L406.5,213.1 L407.2,213.0 L407.9,213.0 L408.6,213.1 L409.3,213.0 L410.0,213.0 L410.7,213.0 L411.4,212.9 L412.1,213.0 L412.8,212.9 L413.5,212.9 L414.0,212.9 L414.1,212.0 L414.1,211.4 L414.2,210.7 L414.2,210.0 L414.3,209.4 L414.3,208.6 L414.4,207.8 L414.4,207.1 L414.5,206.5 L414.6,205.6 L414.6,205.2 L414.7,204.4 L414.7,203.5 L414.8,202.9 L414.8,202.4 L414.9,201.6 L414.9,201.1 L415.0,200.2 L415.1,199.5 L415.1,199.0 L415.2,198.3 L415.3,197.3 L415.4,196.8 L415.4,195.9 L415.5,195.3 L415.6,194.4 L415.7,194.0 L415.7,193.1 L415.8,192.4 L415.9,192.0 L416.0,191.2 L416.0,190.4 L416.1,189.5 L416.2,189.1 L416.3,188.1 L416.3,187.5 L416.4,187.0 L416.5,186.3 L416.5,185.5 L416.6,184.9 L416.6,184.1 L416.7,183.4 L416.8,182.7 L416.8,182.2 L416.9,181.3 L417.0,180.7 L417.0,180.0 L417.1,179.1 L417.1,178.4 L417.2,177.7 L417.3,177.2 L417.3,176.4 L417.4,175.6 L417.5,174.9 L417.5,174.4 L417.6,173.7 L417.6,173.0 L417.7,172.2 L417.8,171.6 L417.8,170.8 L417.9,170.2 L417.9,169.4 L418.0,168.6 L418.0,168.0 L418.1,167.4 L418.1,166.8 L418.2,165.9 L418.2,165.1 L418.3,164.6 L418.3,163.9 L418.4,163.1 L418.4,162.4 L418.5,161.7 L418.5,161.1 L418.5,160.6 L418.6,159.6 L418.6,159.0 L418.7,158.2 L418.7,157.5 L418.8,156.9 L418.8,156.2 L418.9,155.3 L418.9,154.6 L419.0,154.1 L419.0,153.3 L419.1,152.6 L419.1,152.0 L419.2,151.1 L419.2,150.6 L419.2,149.7 L419.3,149.0 L419.3,148.3 L419.4,147.7 L419.4,147.3 L419.5,146.3 L419.6,145.6 L419.6,145.1 L419.7,144.2 L419.8,143.4 L419.9,142.8 L420.0,142.1 L420.1,141.3 L420.2,140.7 L420.3,140.1 L420.4,139.6 L420.5,138.7 L420.6,138.0 L420.7,137.2 L420.8,136.5 L420.9,135.7 L421.0,135.2 L421.1,134.3 L421.2,133.8 L421.3,133.3 L421.4,132.4 L421.5,131.7 L421.6,130.9 L421.7,130.1 L421.8,129.7 L421.9,128.9 L422.1,128.3 L422.2,127.6 L422.3,126.9 L422.4,126.1 L422.5,125.5 L422.6,124.9 L422.7,124.0 L422.8,123.4 L422.9,122.8 L423.0,122.0 L423.1,121.3 L423.3,120.5 L423.4,119.9 L423.5,119.4 L423.6,118.5 L423.7,117.8 L423.8,117.1 L423.9,116.4 L424.0,115.8 L424.1,115.1 L424.2,114.3 L424.3,113.6 L424.4,113.2 L424.6,112.3 L424.8,111.6 L425.1,111.0 L425.5,110.5 L425.8,109.9 L426.1,109.2 L426.5,108.5 L426.8,108.0 L427.2,107.2 L427.5,106.6 L427.8,106.2 L428.2,105.5 L428.5,104.9 L428.9,104.2 L429.3,103.6 L429.7,103.2 L430.2,102.6 L430.6,102.2 L431.1,101.4 L431.5,101.0 L431.8,100.8 L432.1,103.7 L432.3,104.0 L432.6,103.6 L432.9,103.0 L433.3,104.9 L433.8,105.6 L434.3,105.1 L434.8,104.8 L435.4,108.1 L435.9,105.9 L436.4,108.5 L436.9,107.5 L437.4,108.2 L437.9,109.8 L438.4,108.5 L439.0,109.7 L439.5,110.3 L440.1,111.7 L440.7,111.9 L441.4,111.4 L442.1,110.5 L442.7,112.7 L443.4,111.5 L444.1,112.3 L444.8,110.7 L445.4,112.3 L446.1,113.1 L446.8,112.6 L447.5,113.6 L448.1,114.3 L448.8,114.7 L449.5,113.2 L450.2,112.5 L450.8,112.0 L451.5,113.9 L452.2,113.0 L452.9,115.0 L453.5,113.0 L454.2,115.9 L454.9,115.3 L455.5,114.1 L456.2,115.9 L456.9,116.4 L457.5,116.7 L458.2,116.4 L458.8,117.2 L459.5,117.3 L460.2,116.8 L460.9,117.3 L461.5,116.3 L462.2,118.3 L462.8,116.8 L463.5,118.0 L464.2,117.4 L464.8,119.4 L465.5,119.0 L466.1,118.3 L466.8,119.6 L467.5,119.5 L468.1,120.4 L468.8,120.1 L469.4,120.3 L470.1,120.4 L470.8,119.5 L471.4,121.5 L472.1,121.9 L472.7,120.7 L473.4,122.2 L474.1,123.0 L474.7,123.0 L475.4,123.5 L476.1,123.5 L476.7,122.6 L477.4,125.0 L478.1,123.5 L478.7,123.1 L479.4,125.1 L480.1,123.5 L480.7,125.0 L481.4,123.9 L482.1,125.7 L482.7,126.0 L483.4,124.8 L484.1,125.9 L484.8,126.2 L485.4,125.8 L486.1,126.5 L486.8,126.2 L487.4,125.9 L488.1,125.8 L488.8,127.1 L489.5,127.5 L490.1,128.0 L490.8,127.9 L491.5,128.3 L492.2,127.6 L492.8,129.5 L493.5,127.6 L494.2,129.1 L494.8,128.6 L495.5,128.7 L496.2,130.9 L496.8,129.9 L497.5,128.8 L498.1,130.3 L498.8,129.8 L499.5,132.0 L500.1,130.0 L500.8,131.0 L501.4,130.8 L502.1,131.0 L502.7,132.3 L503.4,132.9 L504.1,133.2 L504.7,132.3 L505.4,132.2 L506.1,133.3 L506.7,132.8 L507.4,134.7 L508.0,132.4 L508.7,134.2 L509.4,133.0 L510.0,133.5 L510.7,133.2 L511.4,133.7 L512.0,135.4 L512.7,134.6 L513.3,134.5 L514.0,134.6 L514.7,135.1 L515.3,135.7 L516.0,137.0 L516.7,136.5 L517.3,136.7 L518.0,136.9 L518.7,137.8 L519.3,136.6 L520.0,137.9 L520.7,136.9 L521.3,137.2 L522.0,138.8 L522.7,138.6 L523.3,138.6 L524.0,138.1 L524.7,139.5 L525.3,141.2 L526.0,140.0 L526.7,140.3 L527.4,139.9 L528.0,141.2 L528.7,140.1 L529.4,143.1 L530.1,141.0 L530.7,141.1 L531.4,142.3 L532.1,140.5 L532.7,141.1 L533.4,141.2 L534.1,141.9 L534.8,143.7 L535.4,141.7 L536.1,144.7 L536.8,143.6 L537.5,144.3 L538.1,143.4 L538.8,142.2 L539.5,142.6 L540.2,144.9 L540.8,143.8 L541.5,144.5 L542.2,144.7 L542.9,145.9 L543.5,145.9 L544.2,145.3 L544.9,145.3 L545.6,146.3 L546.2,144.8 L546.9,145.3 L547.6,145.0 L548.2,145.5 L548.9,145.2 L549.6,147.4 L550.3,146.6 L550.9,148.5 L551.6,147.0 L552.3,147.7 L553.0,147.2 L553.7,148.4 L554.3,148.5 L555.0,147.9 L555.7,148.6 L556.4,147.9 L557.1,148.2 L557.7,148.0 L558.4,149.7 L559.1,148.4 L559.8,148.4 L560.5,150.3 L561.2,149.6 L561.8,148.7 L562.5,149.0 L563.2,149.6 L563.9,149.3 L564.6,150.3 L565.3,149.6 L565.9,149.7 L566.6,151.5 L567.3,152.4 L568.0,152.3 L568.7,151.0 L569.4,151.9 L570.1,151.5 L570.7,153.3 L571.4,152.2 L572.1,152.5 L572.8,153.9 L573.5,153.5 L574.2,152.7 L574.8,152.0 L575.5,152.6 L576.2,151.9 L576.9,154.7 L577.6,153.3 L578.3,154.2 L579.0,153.9 L579.6,153.3 L580.3,154.3 L581.0,154.5 L581.7,154.3 L582.4,154.5 L583.1,154.9 L583.8,154.0 L584.4,154.9 L585.1,154.8 L585.8,154.7 L586.5,155.6 L587.2,153.9 L587.8,154.7 L588.5,155.9 L589.2,157.5 L589.9,156.9 L590.6,155.9 L591.2,157.9 L591.9,157.0 L592.6,156.5 L593.3,157.2 L594.0,158.7 L594.6,158.3 L595.3,157.2 L596.0,157.1 L596.7,158.6 L597.4,157.4 L598.0,158.1 L598.7,159.2 L599.4,158.0 L600.1,158.3 L600.8,159.4 L601.4,159.1 L602.1,160.6 L602.8,159.7 L603.5,160.4 L604.2,160.6 L604.9,159.8 L605.5,161.1 L606.2,161.7 L606.9,160.6 L607.6,160.5 L608.3,160.9 L608.9,162.4 L609.6,161.4 L610.3,161.2 L611.0,160.8 L611.7,161.9 L612.3,161.0 L613.0,163.1 L613.7,161.8 L614.4,161.6 L615.1,163.6 L615.7,163.3 L616.4,163.5 L617.1,162.6 L617.8,164.1 L618.5,163.9 L619.2,164.0 L619.8,164.7 L620.5,165.0 L621.2,164.2 L621.9,165.7 L622.6,165.0 L623.3,164.6 L624.0,165.4 L624.7,165.2 L625.4,166.4 L626.0,165.5 L626.7,165.3 L627.4,165.5 L628.1,166.3 L628.8,164.5 L629.5,164.9 L630.2,165.9 L630.9,166.6 L631.6,166.9 L632.3,166.2 L632.9,165.3 L633.6,165.0 L634.3,166.7 L635.0,166.6 L635.7,167.3 L636.4,167.8 L637.1,166.3 L637.8,168.0 L638.5,166.4" stroke="#ff7f50" stroke-width="2.7"/>
<path class="ds" d="M387.8,57.7 L391.4,61.3 L395.0,64.7 L398.7,67.9 L402.3,71.0 L405.9,74.0 L409.5,76.8 L413.2,79.6 L416.8,82.2 L420.4,84.8 L424.0,87.2 L427.7,89.6 L431.3,91.9 L434.9,94.2 L438.5,96.3 L442.1,98.4 L445.8,100.5 L449.4,102.4 L453.0,104.4 L456.6,106.2 L460.3,108.0 L463.9,109.8 L467.5,111.5 L471.1,113.2 L474.7,114.8 L478.4,116.4 L482.0,118.0 L485.6,119.5 L489.2,121.0 L492.9,122.5 L496.5,123.9 L500.1,125.3 L503.7,126.6 L507.4,128.0 L511.0,129.3 L514.6,130.5 L518.2,131.8 L521.8,133.0 L525.5,134.2 L529.1,135.4 L532.7,136.6 L536.3,137.7 L540.0,138.8 L543.6,139.9 L547.2,141.0 L550.8,142.0 L554.4,143.1 L558.1,144.1 L561.7,145.1 L565.3,146.1 L568.9,147.1 L572.6,148.0 L576.2,149.0 L579.8,149.9 L583.4,150.8 L587.1,151.7 L590.7,152.6 L594.3,153.4 L597.9,154.3 L601.5,155.2 L605.2,156.0 L608.8,156.8 L612.4,157.6 L616.0,158.4 L619.7,159.2 L623.3,160.0 L626.9,160.7 L630.5,161.5 L634.1,162.2 L637.8,163.0 L641.4,163.7 L645.0,164.4 L648.6,165.1 L652.3,165.8 L655.9,166.5 L659.5,167.2 L663.1,167.9 L666.8,168.5 L670.4,169.2 L674.0,169.8"/><path class="ds" d="M387.8,65.5 L391.4,69.0 L395.0,72.3 L398.7,75.4 L402.3,78.5 L405.9,81.4 L409.5,84.2 L413.2,86.9 L416.8,89.5 L420.4,92.0 L424.0,94.4 L427.7,96.7 L431.3,99.0 L434.9,101.2 L438.5,103.3 L442.1,105.4 L445.8,107.4 L449.4,109.3 L453.0,111.2 L456.6,113.0 L460.3,114.8 L463.9,116.5 L467.5,118.2 L471.1,119.9 L474.7,121.5 L478.4,123.0 L482.0,124.6 L485.6,126.0 L489.2,127.5 L492.9,128.9 L496.5,130.3 L500.1,131.7 L503.7,133.0 L507.4,134.3 L511.0,135.6 L514.6,136.8 L518.2,138.1 L521.8,139.3 L525.5,140.5 L529.1,141.6 L532.7,142.7 L536.3,143.9 L540.0,145.0 L543.6,146.0 L547.2,147.1 L550.8,148.1 L554.4,149.1 L558.1,150.1 L561.7,151.1 L565.3,152.1 L568.9,153.0 L572.6,154.0 L576.2,154.9 L579.8,155.8 L583.4,156.7 L587.1,157.6 L590.7,158.4 L594.3,159.3 L597.9,160.1 L601.5,161.0 L605.2,161.8 L608.8,162.6 L612.4,163.4 L616.0,164.2 L619.7,164.9 L623.3,165.7 L626.9,166.4 L630.5,167.2 L634.1,167.9 L637.8,168.6 L641.4,169.3 L645.0,170.0 L648.6,170.7 L652.3,171.4 L655.9,172.1 L659.5,172.8 L663.1,173.4 L666.8,174.1 L670.4,174.7 L674.0,175.4"/><path class="ds" d="M387.8,72.8 L391.4,76.2 L395.0,79.4 L398.7,82.6 L402.3,85.5 L405.9,88.4 L409.5,91.1 L413.2,93.8 L416.8,96.3 L420.4,98.8 L424.0,101.2 L427.7,103.5 L431.3,105.7 L434.9,107.8 L438.5,109.9 L442.1,111.9 L445.8,113.9 L449.4,115.8 L453.0,117.6 L456.6,119.4 L460.3,121.2 L463.9,122.9 L467.5,124.5 L471.1,126.1 L474.7,127.7 L478.4,129.2 L482.0,130.7 L485.6,132.2 L489.2,133.6 L492.9,135.0 L496.5,136.4 L500.1,137.7 L503.7,139.0 L507.4,140.3 L511.0,141.6 L514.6,142.8 L518.2,144.0 L521.8,145.2 L525.5,146.3 L529.1,147.5 L532.7,148.6 L536.3,149.7 L540.0,150.8 L543.6,151.8 L547.2,152.8 L550.8,153.9 L554.4,154.9 L558.1,155.8 L561.7,156.8 L565.3,157.7 L568.9,158.7 L572.6,159.6 L576.2,160.5 L579.8,161.4 L583.4,162.3 L587.1,163.1 L590.7,164.0 L594.3,164.8 L597.9,165.6 L601.5,166.5 L605.2,167.3 L608.8,168.0 L612.4,168.8 L616.0,169.6 L619.7,170.3 L623.3,171.1 L626.9,171.8 L630.5,172.6 L634.1,173.3 L637.8,174.0 L641.4,174.7 L645.0,175.4 L648.6,176.0 L652.3,176.7 L655.9,177.4 L659.5,178.0 L663.1,178.7 L666.8,179.3 L670.4,179.9 L674.0,180.6"/>
<path class="d" d="M400.3,150.5 L400.3,149.8 L400.3,148.9 L400.3,148.6 L400.3,147.7 L400.3,147.1 L400.3,146.2 L400.4,145.4 L400.4,144.8 L400.4,144.1 L400.4,143.3 L400.4,142.5 L400.4,142.1 L400.4,141.3 L400.4,140.7 L400.4,140.1 L400.4,139.2 L400.4,138.5 L400.4,137.9 L400.5,137.2 L400.5,136.4 L400.5,135.6 L400.5,134.9 L400.5,134.4 L400.5,133.6 L400.5,133.0 L400.5,132.3 L400.5,131.5 L400.5,130.9 L400.5,130.1 L400.5,129.5 L400.5,128.5 L400.6,127.9 L400.6,127.3 L400.6,126.7 L400.6,125.7 L400.6,125.1 L400.6,124.5 L400.6,123.9 L400.6,123.0 L400.6,122.2 L400.6,121.7 L400.6,121.0 L400.6,120.3 L400.6,119.6 L400.7,118.9 L400.7,118.1 L400.7,117.5 L400.7,116.8 L400.7,116.0 L400.7,115.3 L400.7,114.6 L400.7,114.0 L400.7,113.2 L400.7,112.6 L400.7,111.8 L400.8,111.1 L400.8,110.5 L400.8,109.7 L400.8,109.2 L400.8,108.4 L400.8,107.5 L400.8,106.9 L400.8,106.0 L400.8,105.6 L400.8,104.8 L400.9,104.1 L400.9,103.2 L400.9,102.8 L400.9,102.1 L400.9,101.2 L400.9,100.5 L400.9,99.8 L400.9,99.2 L400.9,98.5 L400.9,97.7 L401.0,97.0 L401.0,96.2 L401.0,95.6 L401.0,94.8 L401.0,94.3 L401.0,93.5 L401.0,92.8 L401.0,92.1 L401.0,91.3 L401.0,90.5 L401.1,89.9 L401.1,89.3 L401.1,88.6 L401.1,88.0 L401.1,87.3 L401.1,86.4 L401.1,85.7 L401.1,85.2 L401.1,84.2 L401.1,83.7 L401.2,83.1 L401.2,82.3 L401.2,81.5 L401.2,80.9 L401.2,80.1 L401.2,80.4 L401.2,81.2 L401.2,81.9 L401.2,82.7 L401.3,83.4 L401.3,84.2 L401.3,84.5 L401.3,85.5 L401.3,86.2 L401.3,86.9 L401.3,87.5 L401.3,88.2 L401.4,89.0 L401.4,89.6 L401.4,90.2 L401.4,91.1 L401.4,91.8 L401.4,92.4 L401.4,93.3 L401.4,93.8 L401.4,94.6 L401.5,95.2 L401.5,96.0 L401.5,96.6 L401.5,97.3 L401.5,98.1 L401.5,98.9 L401.5,99.4 L401.5,100.3 L401.6,100.8 L401.6,101.4 L401.6,102.3 L401.6,103.2 L401.6,103.7 L401.6,104.3 L401.6,105.1 L401.6,105.9 L401.7,106.6 L401.7,107.3 L401.7,108.0 L401.7,108.8 L401.7,109.4 L401.7,110.1 L401.7,110.8 L401.7,111.5 L401.8,112.3 L401.8,112.9 L401.8,113.5 L401.8,114.4 L401.8,115.1 L401.8,115.7 L401.8,116.6 L401.8,117.2 L401.9,117.6 L401.9,118.4 L401.9,119.1 L401.9,119.8 L401.9,120.5 L401.9,121.3 L401.9,122.1 L401.9,122.5 L402.0,123.5 L402.0,124.1 L402.0,124.9 L402.0,125.5 L402.0,126.0 L402.0,126.9 L402.0,127.7 L402.1,128.4 L402.1,129.0 L402.1,129.6 L402.1,130.3 L402.1,131.1 L402.1,131.7 L402.1,132.5 L402.2,133.3 L402.2,134.0 L402.2,134.7 L402.2,135.3 L402.2,136.1 L402.2,136.8 L402.2,137.4 L402.2,138.3 L402.3,138.9 L402.3,139.6 L402.3,140.4 L402.3,141.0 L402.3,141.8 L402.3,142.6 L402.3,143.2 L402.4,143.9 L402.4,144.5 L402.4,145.0 L402.4,145.7 L402.4,145.3 L402.4,144.9 L402.4,144.0 L402.5,143.2 L402.5,142.6 L402.5,142.0 L402.5,141.2 L402.5,140.5 L402.5,139.8 L402.6,139.0 L402.6,138.3 L402.6,137.4 L402.6,136.9 L402.6,136.2 L402.6,135.6 L402.7,134.9 L402.7,134.0 L402.7,133.3 L402.7,132.8 L402.7,131.9 L402.7,131.3 L402.8,130.6 L402.8,130.0 L402.8,129.1 L402.8,128.6 L402.8,127.7 L402.8,127.2 L402.9,126.4 L402.9,125.6 L402.9,125.0 L402.9,124.4 L402.9,123.5 L402.9,122.9 L402.9,122.0 L403.0,121.6 L403.0,120.8 L403.0,120.0 L403.0,119.3 L403.0,118.5 L403.1,118.0 L403.1,117.3 L403.1,116.5 L403.1,115.8 L403.1,115.0 L403.2,114.6 L403.2,113.6 L403.2,113.0 L403.2,112.3 L403.3,111.7 L403.3,110.9 L403.3,110.2 L403.3,109.4 L403.3,108.9 L403.4,107.9 L403.4,107.6 L403.4,106.8 L403.4,106.2 L403.4,105.2 L403.5,104.5 L403.5,103.9 L403.5,103.3 L403.5,102.4 L403.6,101.9 L403.6,101.0 L403.6,100.5 L403.6,99.7 L403.6,99.0 L403.7,98.3 L403.7,97.6 L403.7,96.9 L403.7,97.9 L403.7,98.5 L403.8,99.2 L403.8,99.8 L403.8,100.7 L403.8,101.4 L403.9,102.0 L403.9,102.6 L403.9,103.6 L403.9,104.1 L403.9,104.9 L404.0,105.5 L404.0,106.4 L404.0,107.1 L404.0,107.8 L404.0,108.5 L404.1,109.2 L404.1,109.6 L404.1,110.4 L404.1,111.1 L404.2,111.9 L404.2,112.6 L404.2,113.2 L404.2,114.1 L404.2,114.7 L404.3,115.6 L404.3,116.0 L404.3,116.9 L404.3,117.6 L404.3,118.2 L404.4,118.9 L404.4,119.6 L404.4,120.3 L404.4,121.1 L404.5,121.5 L404.5,122.5 L404.5,123.1 L404.6,123.7 L404.6,124.6 L404.6,125.0 L404.6,125.8 L404.7,126.8 L404.7,127.4 L404.7,128.0 L404.8,128.9 L404.8,129.4 L404.8,130.1 L404.8,130.9 L404.9,131.6 L404.9,132.3 L404.9,132.9 L405.0,133.6 L405.0,134.4 L405.0,135.2 L405.0,135.8 L405.1,136.6 L405.1,137.3 L405.1,137.8 L405.2,138.6 L405.2,139.5 L405.2,140.0 L405.2,140.8 L405.3,141.3 L405.3,142.4 L405.4,142.7 L405.4,143.6 L405.5,144.3 L405.5,144.8 L405.6,145.6 L405.6,146.4 L405.7,146.9 L405.7,147.8 L405.8,148.4 L405.8,149.2 L405.9,150.0 L406.0,150.4 L406.0,151.2 L406.1,151.8 L406.2,152.1 L406.4,151.5 L406.6,150.9 L406.8,150.2 L407.0,149.6 L407.2,148.6 L407.4,148.1 L407.6,147.3 L407.8,146.9 L408.0,146.2 L408.2,145.5 L408.4,144.8 L408.7,144.2 L408.9,143.5 L409.1,142.8 L409.3,142.1 L409.5,141.4 L409.7,140.9 L410.0,140.1 L410.2,139.5 L410.4,138.8 L410.6,138.2 L410.8,137.5 L411.1,136.8 L411.3,136.1 L411.5,135.4 L411.7,134.8 L412.0,134.2 L412.2,133.3 L412.4,132.9 L412.7,132.0 L412.9,131.5 L413.2,130.7 L413.4,130.1 L413.7,129.5 L413.9,128.9 L414.2,128.2 L414.4,127.6 L414.7,126.8 L415.0,126.4 L415.3,125.5 L415.6,125.0 L415.9,124.4 L416.2,123.7 L416.5,123.1 L416.8,122.3 L417.1,121.9 L417.6,121.2 L418.0,120.8 L418.5,120.2 L418.9,119.7 L419.3,119.1 L419.8,118.4 L420.2,118.1 L420.8,117.7 L421.4,117.2 L422.0,116.8 L422.6,116.5 L423.3,116.3 L423.9,115.9 L424.6,116.0 L425.3,115.7 L426.0,115.7 L426.7,115.9 L427.4,115.4 L428.1,116.3 L428.7,116.9 L429.4,116.2 L430.1,117.3 L430.8,116.7 L431.5,117.1 L432.2,117.9 L432.9,117.5 L433.6,117.5 L434.2,116.4 L434.9,117.2 L435.6,117.8 L436.3,117.5 L437.0,117.5 L437.7,118.3 L438.4,117.6 L439.0,117.9 L439.7,118.9 L440.4,119.7 L441.1,118.7 L441.7,119.3 L442.4,119.7 L443.1,119.4 L443.5,119.9 L443.9,121.0 L444.3,120.9 L444.8,121.6 L445.3,123.2 L445.7,122.1 L446.2,123.9 L446.6,123.0 L447.0,121.6 L447.4,121.8 L447.9,121.2 L448.6,120.8 L449.3,121.0 L450.0,121.0 L450.7,122.1 L451.4,121.0 L452.1,121.0 L452.8,121.5 L453.5,121.5 L454.2,122.8 L454.9,121.7 L455.6,121.7 L456.3,121.7 L457.0,121.8 L457.7,121.3 L458.4,122.3 L459.1,122.0 L459.8,122.4 L460.4,123.5 L461.0,123.7 L461.6,123.9 L462.3,123.4 L462.9,124.0 L463.6,124.1 L464.2,124.5 L464.9,124.8 L465.5,124.9 L466.2,125.9 L466.8,125.3 L467.5,126.5 L468.2,126.4 L468.8,126.4 L469.5,126.9 L470.1,126.8 L470.8,127.0 L471.4,127.9 L472.1,127.6 L472.7,129.8 L473.4,127.7 L474.1,127.8 L474.7,129.2 L475.4,128.7 L476.0,128.9 L476.7,128.9 L477.4,129.5 L478.0,129.5 L478.7,130.4 L479.4,130.0 L480.0,130.6 L480.7,131.1 L481.3,131.1 L482.0,131.0 L482.7,131.0 L483.3,131.1 L484.0,131.3 L484.7,132.5 L485.3,132.1 L486.0,132.4 L486.7,132.9 L487.3,133.2 L488.0,133.7 L488.7,133.7 L489.3,133.6 L490.0,133.4 L490.7,134.4 L491.3,134.3 L492.0,134.6 L492.7,134.4 L493.3,135.2 L494.0,135.6 L494.7,135.4 L495.4,136.0 L496.0,135.9 L496.7,136.0 L497.4,136.9 L498.0,136.4 L498.7,136.9 L499.4,136.3 L500.0,137.6 L500.7,137.2 L501.4,137.6 L502.0,137.7 L502.7,138.2 L503.4,138.0 L504.1,138.0 L504.7,138.8 L505.4,139.0 L506.1,138.9 L506.7,139.6 L507.4,140.0 L508.1,139.4 L508.8,140.1 L509.4,140.3 L510.1,139.6 L510.8,140.0 L511.5,139.7 L512.1,141.5 L512.8,140.9 L513.5,141.2 L514.2,141.8 L514.8,142.4 L515.5,142.1 L516.2,142.8 L516.9,142.9 L517.5,144.2 L518.2,142.3 L518.9,142.7 L519.6,142.7 L520.2,143.5 L520.9,143.1 L521.6,144.0 L522.3,143.0 L522.9,144.4 L523.6,144.4 L524.3,145.0 L525.0,144.8 L525.7,144.8 L526.4,145.0 L527.0,144.1 L527.7,145.1 L528.4,145.4 L529.1,146.3 L529.8,145.7 L530.5,145.1 L531.2,146.9 L531.8,145.7 L532.5,146.3 L533.2,145.9 L533.9,145.0 L534.6,147.0 L535.3,146.6 L536.0,147.3 L536.7,146.8 L537.3,147.5 L538.0,148.1 L538.7,147.8 L539.4,147.6 L540.1,147.6 L540.8,148.0 L541.5,147.6 L542.1,148.4 L542.8,148.8 L543.5,148.0 L544.2,148.2 L544.9,149.8 L545.6,149.1 L546.3,150.1 L546.9,149.7 L547.6,149.9 L548.3,149.8 L549.0,150.7 L549.7,150.7 L550.4,150.2 L551.1,149.5 L551.7,149.9 L552.4,150.6 L553.1,150.4 L553.8,151.2 L554.5,151.3 L555.2,151.5 L555.9,151.6 L556.6,151.6 L557.2,151.8 L557.9,151.9 L558.6,151.4 L559.3,152.1 L560.0,152.2 L560.7,152.7 L561.4,152.3 L562.1,152.2 L562.8,153.6 L563.4,153.2 L564.1,153.5 L564.8,153.9 L565.5,153.1 L566.2,153.9 L566.9,153.6 L567.6,153.2 L568.3,153.9 L569.0,154.0 L569.7,154.3 L570.4,154.1 L571.0,154.2 L571.7,154.0 L572.4,155.0 L573.1,153.8 L573.8,154.9 L574.5,154.8 L575.2,154.9 L575.9,155.4 L576.6,155.3 L577.2,154.8 L577.9,154.8 L578.6,155.0 L579.3,155.6 L580.0,155.9 L580.7,156.1 L581.4,156.4 L582.1,156.6 L582.8,156.4 L583.5,156.1 L584.1,156.7 L584.8,156.7 L585.5,157.9 L586.2,157.8 L586.9,157.2 L587.6,157.7 L588.2,158.5 L588.9,158.2 L589.6,158.7 L590.3,158.5 L591.0,158.7 L591.6,159.1 L592.3,158.7 L593.0,158.8 L593.7,159.1 L594.4,160.0 L595.1,159.8 L595.7,159.2 L596.4,160.4 L597.1,160.4 L597.8,160.7 L598.5,160.6 L599.2,160.7 L599.8,159.9 L600.5,161.1 L601.2,160.3 L601.9,161.2 L602.6,162.2 L603.3,161.6 L604.0,161.8 L604.7,161.6 L605.3,162.1 L606.0,161.5 L606.7,162.1 L607.4,162.5 L608.1,162.4 L608.8,162.1 L609.5,161.7 L610.2,162.6 L610.9,162.7 L611.5,162.9 L612.2,163.5 L612.9,162.7 L613.6,163.9 L614.3,163.1 L615.0,165.0 L615.7,164.6 L616.4,164.4 L617.1,163.9 L617.8,164.5 L618.4,164.6 L619.1,164.4 L619.8,164.6 L620.5,165.4 L621.2,165.2 L621.9,166.1 L622.6,165.9 L623.3,165.5 L623.9,166.0 L624.6,165.9 L625.3,165.5 L626.0,166.4 L626.7,166.0 L627.4,167.1 L628.1,167.1 L628.7,165.7 L629.4,167.0 L630.1,166.6 L630.8,168.0 L631.5,167.3 L632.2,167.7 L632.9,167.9 L633.6,167.4 L634.2,168.0 L634.9,168.7 L635.6,168.0 L636.3,168.7 L637.0,168.4 L637.7,169.7 L638.4,169.7 L639.1,169.0 L639.7,169.0 L640.4,169.5 L641.1,169.4 L641.8,169.5 L642.5,169.4" stroke="#808080" stroke-width="2.9"/>
</g>
<rect x="37.45" y="29.05" width="286.20" height="179.80" fill="none" stroke="#000" stroke-width="1"/>
<path d="M56.53,208.85v-4.4 M56.53,29.05v4.4 M75.61,208.85v-4.4 M75.61,29.05v4.4 M94.69,208.85v-4.4 M94.69,29.05v4.4 M113.77,208.85v-4.4 M113.77,29.05v4.4 M151.93,208.85v-4.4 M151.93,29.05v4.4 M171.01,208.85v-4.4 M171.01,29.05v4.4 M190.09,208.85v-4.4 M190.09,29.05v4.4 M209.17,208.85v-4.4 M209.17,29.05v4.4 M247.33,208.85v-4.4 M247.33,29.05v4.4 M266.41,208.85v-4.4 M266.41,29.05v4.4 M285.49,208.85v-4.4 M285.49,29.05v4.4 M304.57,208.85v-4.4 M304.57,29.05v4.4 M37.45,196.86h4.4 M323.65,196.86h-4.4 M37.45,184.88h4.4 M323.65,184.88h-4.4 M37.45,172.89h4.4 M323.65,172.89h-4.4 M37.45,160.90h4.4 M323.65,160.90h-4.4 M37.45,136.93h4.4 M323.65,136.93h-4.4 M37.45,124.94h4.4 M323.65,124.94h-4.4 M37.45,112.96h4.4 M323.65,112.96h-4.4 M37.45,100.97h4.4 M323.65,100.97h-4.4 M37.45,77.00h4.4 M323.65,77.00h-4.4 M37.45,65.01h4.4 M323.65,65.01h-4.4 M37.45,53.02h4.4 M323.65,53.02h-4.4 M37.45,41.04h4.4 M323.65,41.04h-4.4" stroke="#000" stroke-width="1.0" fill="none"/>
<path d="M37.45,209.29999999999998v-9.049999999999999 M37.45,28.6v9.049999999999999 M132.85,209.29999999999998v-9.049999999999999 M132.85,28.6v9.049999999999999 M228.25,209.29999999999998v-9.049999999999999 M228.25,28.6v9.049999999999999 M323.65,209.29999999999998v-9.049999999999999 M323.65,28.6v9.049999999999999 M37.00,208.85h9.049999999999999 M324.10,208.85h-9.049999999999999 M37.00,148.92h9.049999999999999 M324.10,148.92h-9.049999999999999 M37.00,88.98h9.049999999999999 M324.10,88.98h-9.049999999999999 M37.00,29.05h9.049999999999999 M324.10,29.05h-9.049999999999999" stroke="#000" stroke-width="1.8" fill="none"/>
<rect x="36.55" y="28.15" width="1.8" height="1.8" fill="#000"/>
<rect x="322.75" y="28.15" width="1.8" height="1.8" fill="#000"/>
<rect x="36.55" y="207.95" width="1.8" height="1.8" fill="#000"/>
<rect x="322.75" y="207.95" width="1.8" height="1.8" fill="#000"/>
<text transform="translate(37.75,222.7) scale(0.925,1)" class="tk" text-anchor="middle">1000</text>
<text transform="translate(133.15,222.7) scale(0.925,1)" class="tk" text-anchor="middle">2000</text>
<text transform="translate(228.55,222.7) scale(0.925,1)" class="tk" text-anchor="middle">3000</text>
<text transform="translate(323.95,222.7) scale(0.925,1)" class="tk" text-anchor="middle">4000</text>
<text transform="translate(31.85,213.50) scale(0.975,1)" class="tk" text-anchor="end">2.0</text>
<text transform="translate(31.85,153.57) scale(0.975,1)" class="tk" text-anchor="end">2.5</text>
<text transform="translate(31.85,93.63) scale(0.975,1)" class="tk" text-anchor="end">3.0</text>
<text transform="translate(31.85,33.70) scale(0.975,1)" class="tk" text-anchor="end">3.5</text>
<text transform="translate(171.95,235.9) scale(1.06,1)" class="it">Re<tspan dy="2.4" style="font-size:9px">θ</tspan></text>
<g transform="translate(11.45,142.7) rotate(-90) scale(1.06,1)"><text class="it" x="0" y="0" style="font-size:12.5px">C<tspan dy="2.2" style="font-size:9px">f</tspan><tspan dy="-2.2" style="font-style:normal"> × 10</tspan><tspan dy="-4.4" style="font-size:8.5px;font-style:normal">3</tspan></text></g>
<rect x="387.80" y="29.05" width="286.20" height="179.80" fill="none" stroke="#000" stroke-width="1"/>
<path d="M406.88,208.85v-4.4 M406.88,29.05v4.4 M425.96,208.85v-4.4 M425.96,29.05v4.4 M445.04,208.85v-4.4 M445.04,29.05v4.4 M464.12,208.85v-4.4 M464.12,29.05v4.4 M502.28,208.85v-4.4 M502.28,29.05v4.4 M521.36,208.85v-4.4 M521.36,29.05v4.4 M540.44,208.85v-4.4 M540.44,29.05v4.4 M559.52,208.85v-4.4 M559.52,29.05v4.4 M597.68,208.85v-4.4 M597.68,29.05v4.4 M616.76,208.85v-4.4 M616.76,29.05v4.4 M635.84,208.85v-4.4 M635.84,29.05v4.4 M654.92,208.85v-4.4 M654.92,29.05v4.4 M387.80,196.86h4.4 M674.00,196.86h-4.4 M387.80,184.88h4.4 M674.00,184.88h-4.4 M387.80,172.89h4.4 M674.00,172.89h-4.4 M387.80,160.90h4.4 M674.00,160.90h-4.4 M387.80,136.93h4.4 M674.00,136.93h-4.4 M387.80,124.94h4.4 M674.00,124.94h-4.4 M387.80,112.96h4.4 M674.00,112.96h-4.4 M387.80,100.97h4.4 M674.00,100.97h-4.4 M387.80,77.00h4.4 M674.00,77.00h-4.4 M387.80,65.01h4.4 M674.00,65.01h-4.4 M387.80,53.02h4.4 M674.00,53.02h-4.4 M387.80,41.04h4.4 M674.00,41.04h-4.4" stroke="#000" stroke-width="1.0" fill="none"/>
<path d="M387.80,209.29999999999998v-9.049999999999999 M387.80,28.6v9.049999999999999 M483.20,209.29999999999998v-9.049999999999999 M483.20,28.6v9.049999999999999 M578.60,209.29999999999998v-9.049999999999999 M578.60,28.6v9.049999999999999 M674.00,209.29999999999998v-9.049999999999999 M674.00,28.6v9.049999999999999 M387.35,208.85h9.049999999999999 M674.45,208.85h-9.049999999999999 M387.35,148.92h9.049999999999999 M674.45,148.92h-9.049999999999999 M387.35,88.98h9.049999999999999 M674.45,88.98h-9.049999999999999 M387.35,29.05h9.049999999999999 M674.45,29.05h-9.049999999999999" stroke="#000" stroke-width="1.8" fill="none"/>
<rect x="386.90" y="28.15" width="1.8" height="1.8" fill="#000"/>
<rect x="673.10" y="28.15" width="1.8" height="1.8" fill="#000"/>
<rect x="386.90" y="207.95" width="1.8" height="1.8" fill="#000"/>
<rect x="673.10" y="207.95" width="1.8" height="1.8" fill="#000"/>
<text transform="translate(388.10,222.7) scale(0.925,1)" class="tk" text-anchor="middle">1000</text>
<text transform="translate(483.50,222.7) scale(0.925,1)" class="tk" text-anchor="middle">2000</text>
<text transform="translate(578.90,222.7) scale(0.925,1)" class="tk" text-anchor="middle">3000</text>
<text transform="translate(674.30,222.7) scale(0.925,1)" class="tk" text-anchor="middle">4000</text>
<text transform="translate(382.20,213.50) scale(0.975,1)" class="tk" text-anchor="end">2.0</text>
<text transform="translate(382.20,153.57) scale(0.975,1)" class="tk" text-anchor="end">2.5</text>
<text transform="translate(382.20,93.63) scale(0.975,1)" class="tk" text-anchor="end">3.0</text>
<text transform="translate(382.20,33.70) scale(0.975,1)" class="tk" text-anchor="end">3.5</text>
<text transform="translate(522.30,235.9) scale(1.06,1)" class="it">Re<tspan dy="2.4" style="font-size:9px">θ</tspan></text>
<g transform="translate(361.80,142.7) rotate(-90) scale(1.06,1)"><text class="it" x="0" y="0" style="font-size:12.5px">C<tspan dy="2.2" style="font-size:9px">f</tspan><tspan dy="-2.2" style="font-style:normal"> × 10</tspan><tspan dy="-4.4" style="font-size:8.5px;font-style:normal">3</tspan></text></g>
<rect x="233.1" y="35.7" width="84.9" height="55.7" rx="2" fill="#fff" fill-opacity="0.8" stroke="#ccc" stroke-width="0.9"/>
<path d="M237.4,45.4h26.6" stroke="#ff0000" stroke-width="2.4"/>
<text x="273.2" y="49.2" class="lg">M2-RR1</text>
<path d="M237.4,63.2h26.6" stroke="#0000ff" stroke-width="2.4"/>
<text x="273.2" y="67.0" class="lg">M2-RR2</text>
<path d="M237.4,81.0h26.6" stroke="#008000" stroke-width="2.4"/>
<text x="273.2" y="84.8" class="lg">M2-RR3</text>
<rect x="583.4" y="35.7" width="84.9" height="55.7" rx="2" fill="#fff" fill-opacity="0.8" stroke="#ccc" stroke-width="0.9"/>
<path d="M587.7,45.4h26.6" stroke="#00ced1" stroke-width="2.4"/>
<text x="623.6" y="49.2" class="lg">M2-DF1</text>
<path d="M587.7,63.2h26.6" stroke="#ff7f50" stroke-width="2.4"/>
<text x="623.6" y="67.0" class="lg">M2-DF2</text>
<path d="M587.7,81.0h26.6" stroke="#808080" stroke-width="2.4"/>
<text x="623.6" y="84.8" class="lg">M2-DF3</text>
</svg>
</body></html>
